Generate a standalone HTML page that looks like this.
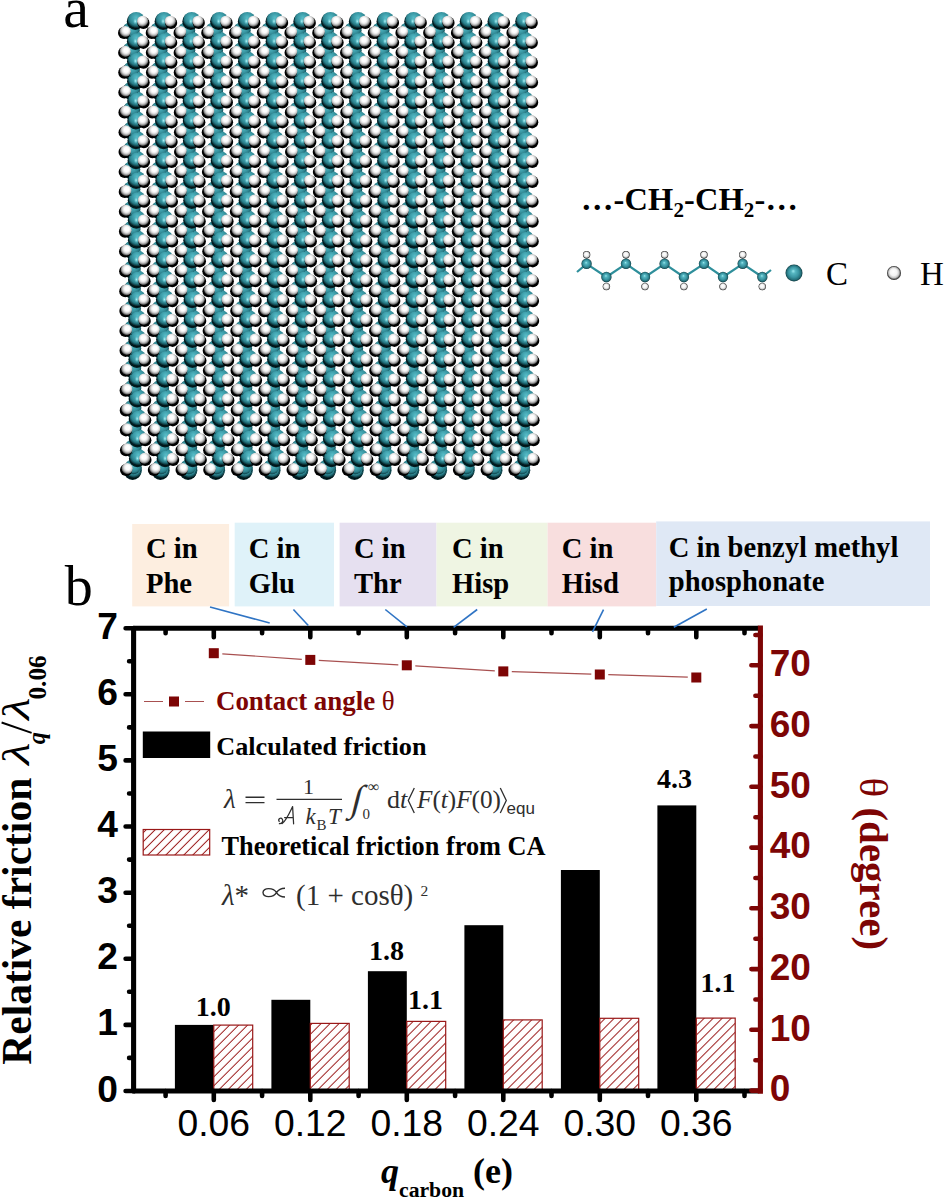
<!DOCTYPE html>
<html><head><meta charset="utf-8"><title>Figure</title>
<style>html,body{margin:0;padding:0;background:#fff;}body{width:946px;height:1200px;overflow:hidden;font-family:"Liberation Sans",sans-serif;}svg{display:block;}</style>
</head><body>
<svg width="946" height="1200" viewBox="0 0 946 1200">
<defs>
<radialGradient id="gC" gradientUnits="userSpaceOnUse" cx="0" cy="-2.5" r="11.0">
<stop offset="0" stop-color="#58bdc8"/>
<stop offset="0.28" stop-color="#44a6b2"/>
<stop offset="0.5" stop-color="#37939f"/>
<stop offset="0.66" stop-color="#2b7e89"/>
<stop offset="0.77" stop-color="#195a63"/>
<stop offset="0.86" stop-color="#0b363c"/>
<stop offset="0.94" stop-color="#021417"/>
<stop offset="1" stop-color="#000000"/>
</radialGradient>
<radialGradient id="gHL" cx="50%" cy="50%" r="50%">
<stop offset="0" stop-color="#b8f8fb" stop-opacity="0.95"/>
<stop offset="0.45" stop-color="#8fe3ea" stop-opacity="0.55"/>
<stop offset="1" stop-color="#58b9c4" stop-opacity="0"/>
</radialGradient>
<radialGradient id="gH" gradientUnits="userSpaceOnUse" cx="0.8" cy="-1.2" r="7.1">
<stop offset="0" stop-color="#ffffff"/>
<stop offset="0.3" stop-color="#fefefe"/>
<stop offset="0.5" stop-color="#e6e6e6"/>
<stop offset="0.66" stop-color="#bebebe"/>
<stop offset="0.8" stop-color="#868686"/>
<stop offset="0.92" stop-color="#3c3c3c"/>
<stop offset="1" stop-color="#0a0a0a"/>
</radialGradient>
<radialGradient id="gH2" gradientUnits="userSpaceOnUse" cx="-0.6" cy="-1.3" r="7.1">
<stop offset="0" stop-color="#ffffff"/>
<stop offset="0.3" stop-color="#fefefe"/>
<stop offset="0.5" stop-color="#e6e6e6"/>
<stop offset="0.66" stop-color="#bebebe"/>
<stop offset="0.8" stop-color="#868686"/>
<stop offset="0.92" stop-color="#3c3c3c"/>
<stop offset="1" stop-color="#0a0a0a"/>
</radialGradient>
<radialGradient id="gCs" cx="50%" cy="50%" r="50%" fx="45%" fy="38%">
<stop offset="0" stop-color="#9be9ef"/>
<stop offset="0.25" stop-color="#56b6c1"/>
<stop offset="0.6" stop-color="#3a96a3"/>
<stop offset="0.85" stop-color="#246f79"/>
<stop offset="1" stop-color="#0c353b"/>
</radialGradient>
<radialGradient id="gHs" cx="50%" cy="50%" r="50%" fx="45%" fy="38%">
<stop offset="0" stop-color="#ffffff"/>
<stop offset="0.5" stop-color="#f4f4f4"/>
<stop offset="0.75" stop-color="#c4c4c4"/>
<stop offset="0.9" stop-color="#585858"/>
<stop offset="1" stop-color="#161616"/>
</radialGradient>
<g id="c"><circle cx="-0.9" cy="1.3" r="8.5" fill="#041d21"/><circle r="8.4" fill="url(#gC)"/></g>
<g id="ccl"><circle r="6.9" fill="url(#gC)"/><ellipse cx="-1.4" cy="-3.0" rx="2.6" ry="3.2" fill="url(#gHL)"/></g>
<g id="ccr"><circle r="6.9" fill="url(#gC)"/><ellipse cx="-0.9" cy="1.0" rx="2.4" ry="3.4" fill="url(#gHL)"/></g>
<g id="hl"><circle cx="-1.0" cy="1.4" r="6.1" fill="#000"/><circle r="5.6" fill="url(#gH)"/></g>
<g id="hr"><circle cx="0.8" cy="1.6" r="6.1" fill="#000"/><circle r="5.6" fill="url(#gH2)"/></g>
<pattern id="hatch" width="6.36" height="6.36" patternUnits="userSpaceOnUse" patternTransform="rotate(-45)">
<line x1="0" y1="3.18" x2="6.36" y2="3.18" stroke="#991818" stroke-width="1"/>
</pattern>
</defs>

<filter id="bl" x="-5%" y="-5%" width="110%" height="110%"><feGaussianBlur stdDeviation="0.55"/></filter>
<g id="lattice" filter="url(#bl)">
<use href="#c" x="133.5" y="470.3"/><use href="#c" x="133.3" y="467.4"/><use href="#ccl" x="133.5" y="470.3"/><use href="#ccl" x="133.3" y="467.4"/><use href="#hl" x="127.1" y="468.6"/><use href="#c" x="133.2" y="447.6"/><use href="#c" x="138.3" y="457.4"/><use href="#ccl" x="133.2" y="447.6"/><use href="#ccr" x="138.3" y="457.4"/><use href="#hl" x="127.0" y="448.8"/><use href="#hr" x="144.6" y="458.4"/><use href="#c" x="133.1" y="427.7"/><use href="#c" x="138.2" y="437.6"/><use href="#ccl" x="133.1" y="427.7"/><use href="#ccr" x="138.2" y="437.6"/><use href="#hl" x="126.9" y="428.9"/><use href="#hr" x="144.5" y="438.6"/><use href="#c" x="133.0" y="407.8"/><use href="#c" x="138.1" y="417.7"/><use href="#ccl" x="133.0" y="407.8"/><use href="#ccr" x="138.1" y="417.7"/><use href="#hl" x="126.8" y="409.0"/><use href="#hr" x="144.4" y="418.7"/><use href="#c" x="132.9" y="388.0"/><use href="#c" x="138.0" y="397.8"/><use href="#ccl" x="132.9" y="388.0"/><use href="#ccr" x="138.0" y="397.8"/><use href="#hl" x="126.7" y="389.2"/><use href="#hr" x="144.3" y="398.8"/><use href="#c" x="132.8" y="368.1"/><use href="#c" x="137.9" y="378.0"/><use href="#ccl" x="132.8" y="368.1"/><use href="#ccr" x="137.9" y="378.0"/><use href="#hl" x="126.7" y="369.3"/><use href="#hr" x="144.2" y="379.0"/><use href="#c" x="132.8" y="348.2"/><use href="#c" x="137.8" y="358.1"/><use href="#ccl" x="132.8" y="348.2"/><use href="#ccr" x="137.8" y="358.1"/><use href="#hl" x="126.6" y="349.4"/><use href="#hr" x="144.1" y="359.1"/><use href="#c" x="132.7" y="328.4"/><use href="#c" x="137.7" y="338.2"/><use href="#ccl" x="132.7" y="328.4"/><use href="#ccr" x="137.7" y="338.2"/><use href="#hl" x="126.5" y="329.6"/><use href="#hr" x="144.0" y="339.2"/><use href="#c" x="132.6" y="308.5"/><use href="#c" x="137.6" y="318.4"/><use href="#ccl" x="132.6" y="308.5"/><use href="#ccr" x="137.6" y="318.4"/><use href="#hl" x="126.4" y="309.7"/><use href="#hr" x="143.9" y="319.4"/><use href="#c" x="132.5" y="288.6"/><use href="#c" x="137.5" y="298.5"/><use href="#ccl" x="132.5" y="288.6"/><use href="#ccr" x="137.5" y="298.5"/><use href="#hl" x="126.3" y="289.8"/><use href="#hr" x="143.8" y="299.5"/><use href="#c" x="132.4" y="268.7"/><use href="#c" x="137.4" y="278.6"/><use href="#ccl" x="132.4" y="268.7"/><use href="#ccr" x="137.4" y="278.6"/><use href="#hl" x="126.2" y="269.9"/><use href="#hr" x="143.7" y="279.6"/><use href="#c" x="132.3" y="248.9"/><use href="#c" x="137.3" y="258.7"/><use href="#ccl" x="132.3" y="248.9"/><use href="#ccr" x="137.3" y="258.7"/><use href="#hl" x="126.1" y="250.1"/><use href="#hr" x="143.6" y="259.7"/><use href="#c" x="132.2" y="229.0"/><use href="#c" x="137.3" y="238.9"/><use href="#ccl" x="132.2" y="229.0"/><use href="#ccr" x="137.3" y="238.9"/><use href="#hl" x="126.0" y="230.2"/><use href="#hr" x="143.6" y="239.9"/><use href="#c" x="132.1" y="209.1"/><use href="#c" x="137.2" y="219.0"/><use href="#ccl" x="132.1" y="209.1"/><use href="#ccr" x="137.2" y="219.0"/><use href="#hl" x="125.9" y="210.3"/><use href="#hr" x="143.5" y="220.0"/><use href="#c" x="132.0" y="189.3"/><use href="#c" x="137.1" y="199.1"/><use href="#ccl" x="132.0" y="189.3"/><use href="#ccr" x="137.1" y="199.1"/><use href="#hl" x="125.8" y="190.5"/><use href="#hr" x="143.4" y="200.1"/><use href="#c" x="131.9" y="169.4"/><use href="#c" x="137.0" y="179.3"/><use href="#ccl" x="131.9" y="169.4"/><use href="#ccr" x="137.0" y="179.3"/><use href="#hl" x="125.7" y="170.6"/><use href="#hr" x="143.3" y="180.3"/><use href="#c" x="131.8" y="149.5"/><use href="#c" x="136.9" y="159.4"/><use href="#ccl" x="131.8" y="149.5"/><use href="#ccr" x="136.9" y="159.4"/><use href="#hl" x="125.6" y="150.7"/><use href="#hr" x="143.2" y="160.4"/><use href="#c" x="131.8" y="129.7"/><use href="#c" x="136.8" y="139.5"/><use href="#ccl" x="131.8" y="129.7"/><use href="#ccr" x="136.8" y="139.5"/><use href="#hl" x="125.6" y="130.9"/><use href="#hr" x="143.1" y="140.5"/><use href="#c" x="131.7" y="109.8"/><use href="#c" x="136.7" y="119.7"/><use href="#ccl" x="131.7" y="109.8"/><use href="#ccr" x="136.7" y="119.7"/><use href="#hl" x="125.5" y="111.0"/><use href="#hr" x="143.0" y="120.7"/><use href="#c" x="131.6" y="89.9"/><use href="#c" x="136.6" y="99.8"/><use href="#ccl" x="131.6" y="89.9"/><use href="#ccr" x="136.6" y="99.8"/><use href="#hl" x="125.4" y="91.1"/><use href="#hr" x="142.9" y="100.8"/><use href="#c" x="131.5" y="70.0"/><use href="#c" x="136.5" y="79.9"/><use href="#ccl" x="131.5" y="70.0"/><use href="#ccr" x="136.5" y="79.9"/><use href="#hl" x="125.3" y="71.2"/><use href="#hr" x="142.8" y="80.9"/><use href="#c" x="131.4" y="50.2"/><use href="#c" x="136.4" y="60.0"/><use href="#ccl" x="131.4" y="50.2"/><use href="#ccr" x="136.4" y="60.0"/><use href="#hl" x="125.2" y="51.4"/><use href="#hr" x="142.7" y="61.0"/><use href="#c" x="131.3" y="30.3"/><use href="#c" x="136.3" y="40.2"/><use href="#ccl" x="131.3" y="30.3"/><use href="#ccr" x="136.3" y="40.2"/><use href="#hl" x="125.1" y="31.5"/><use href="#hr" x="142.6" y="41.2"/><use href="#c" x="136.2" y="20.3"/><use href="#ccr" x="136.2" y="20.3"/><use href="#hr" x="142.6" y="21.3"/>
<use href="#c" x="161.3" y="470.3"/><use href="#c" x="161.0" y="467.4"/><use href="#ccl" x="161.3" y="470.3"/><use href="#ccl" x="161.0" y="467.4"/><use href="#hl" x="154.9" y="468.6"/><use href="#c" x="161.0" y="447.6"/><use href="#c" x="166.0" y="457.4"/><use href="#ccl" x="161.0" y="447.6"/><use href="#ccr" x="166.0" y="457.4"/><use href="#hl" x="154.8" y="448.8"/><use href="#hr" x="172.3" y="458.4"/><use href="#c" x="160.9" y="427.7"/><use href="#c" x="165.9" y="437.6"/><use href="#ccl" x="160.9" y="427.7"/><use href="#ccr" x="165.9" y="437.6"/><use href="#hl" x="154.7" y="428.9"/><use href="#hr" x="172.2" y="438.6"/><use href="#c" x="160.8" y="407.8"/><use href="#c" x="165.8" y="417.7"/><use href="#ccl" x="160.8" y="407.8"/><use href="#ccr" x="165.8" y="417.7"/><use href="#hl" x="154.6" y="409.0"/><use href="#hr" x="172.1" y="418.7"/><use href="#c" x="160.7" y="388.0"/><use href="#c" x="165.7" y="397.8"/><use href="#ccl" x="160.7" y="388.0"/><use href="#ccr" x="165.7" y="397.8"/><use href="#hl" x="154.5" y="389.2"/><use href="#hr" x="172.0" y="398.8"/><use href="#c" x="160.6" y="368.1"/><use href="#c" x="165.6" y="378.0"/><use href="#ccl" x="160.6" y="368.1"/><use href="#ccr" x="165.6" y="378.0"/><use href="#hl" x="154.4" y="369.3"/><use href="#hr" x="171.9" y="379.0"/><use href="#c" x="160.5" y="348.2"/><use href="#c" x="165.5" y="358.1"/><use href="#ccl" x="160.5" y="348.2"/><use href="#ccr" x="165.5" y="358.1"/><use href="#hl" x="154.3" y="349.4"/><use href="#hr" x="171.8" y="359.1"/><use href="#c" x="160.4" y="328.4"/><use href="#c" x="165.5" y="338.2"/><use href="#ccl" x="160.4" y="328.4"/><use href="#ccr" x="165.5" y="338.2"/><use href="#hl" x="154.2" y="329.6"/><use href="#hr" x="171.8" y="339.2"/><use href="#c" x="160.3" y="308.5"/><use href="#c" x="165.4" y="318.4"/><use href="#ccl" x="160.3" y="308.5"/><use href="#ccr" x="165.4" y="318.4"/><use href="#hl" x="154.1" y="309.7"/><use href="#hr" x="171.7" y="319.4"/><use href="#c" x="160.2" y="288.6"/><use href="#c" x="165.3" y="298.5"/><use href="#ccl" x="160.2" y="288.6"/><use href="#ccr" x="165.3" y="298.5"/><use href="#hl" x="154.0" y="289.8"/><use href="#hr" x="171.6" y="299.5"/><use href="#c" x="160.1" y="268.7"/><use href="#c" x="165.2" y="278.6"/><use href="#ccl" x="160.1" y="268.7"/><use href="#ccr" x="165.2" y="278.6"/><use href="#hl" x="153.9" y="269.9"/><use href="#hr" x="171.5" y="279.6"/><use href="#c" x="160.0" y="248.9"/><use href="#c" x="165.1" y="258.7"/><use href="#ccl" x="160.0" y="248.9"/><use href="#ccr" x="165.1" y="258.7"/><use href="#hl" x="153.8" y="250.1"/><use href="#hr" x="171.4" y="259.7"/><use href="#c" x="159.9" y="229.0"/><use href="#c" x="165.0" y="238.9"/><use href="#ccl" x="159.9" y="229.0"/><use href="#ccr" x="165.0" y="238.9"/><use href="#hl" x="153.8" y="230.2"/><use href="#hr" x="171.3" y="239.9"/><use href="#c" x="159.9" y="209.1"/><use href="#c" x="164.9" y="219.0"/><use href="#ccl" x="159.9" y="209.1"/><use href="#ccr" x="164.9" y="219.0"/><use href="#hl" x="153.7" y="210.3"/><use href="#hr" x="171.2" y="220.0"/><use href="#c" x="159.8" y="189.3"/><use href="#c" x="164.8" y="199.1"/><use href="#ccl" x="159.8" y="189.3"/><use href="#ccr" x="164.8" y="199.1"/><use href="#hl" x="153.6" y="190.5"/><use href="#hr" x="171.1" y="200.1"/><use href="#c" x="159.7" y="169.4"/><use href="#c" x="164.7" y="179.3"/><use href="#ccl" x="159.7" y="169.4"/><use href="#ccr" x="164.7" y="179.3"/><use href="#hl" x="153.5" y="170.6"/><use href="#hr" x="171.0" y="180.3"/><use href="#c" x="159.6" y="149.5"/><use href="#c" x="164.6" y="159.4"/><use href="#ccl" x="159.6" y="149.5"/><use href="#ccr" x="164.6" y="159.4"/><use href="#hl" x="153.4" y="150.7"/><use href="#hr" x="170.9" y="160.4"/><use href="#c" x="159.5" y="129.7"/><use href="#c" x="164.5" y="139.5"/><use href="#ccl" x="159.5" y="129.7"/><use href="#ccr" x="164.5" y="139.5"/><use href="#hl" x="153.3" y="130.9"/><use href="#hr" x="170.8" y="140.5"/><use href="#c" x="159.4" y="109.8"/><use href="#c" x="164.4" y="119.7"/><use href="#ccl" x="159.4" y="109.8"/><use href="#ccr" x="164.4" y="119.7"/><use href="#hl" x="153.2" y="111.0"/><use href="#hr" x="170.8" y="120.7"/><use href="#c" x="159.3" y="89.9"/><use href="#c" x="164.4" y="99.8"/><use href="#ccl" x="159.3" y="89.9"/><use href="#ccr" x="164.4" y="99.8"/><use href="#hl" x="153.1" y="91.1"/><use href="#hr" x="170.7" y="100.8"/><use href="#c" x="159.2" y="70.0"/><use href="#c" x="164.3" y="79.9"/><use href="#ccl" x="159.2" y="70.0"/><use href="#ccr" x="164.3" y="79.9"/><use href="#hl" x="153.0" y="71.2"/><use href="#hr" x="170.6" y="80.9"/><use href="#c" x="159.1" y="50.2"/><use href="#c" x="164.2" y="60.0"/><use href="#ccl" x="159.1" y="50.2"/><use href="#ccr" x="164.2" y="60.0"/><use href="#hl" x="152.9" y="51.4"/><use href="#hr" x="170.5" y="61.0"/><use href="#c" x="159.0" y="30.3"/><use href="#c" x="164.1" y="40.2"/><use href="#ccl" x="159.0" y="30.3"/><use href="#ccr" x="164.1" y="40.2"/><use href="#hl" x="152.8" y="31.5"/><use href="#hr" x="170.4" y="41.2"/><use href="#c" x="164.0" y="20.3"/><use href="#ccr" x="164.0" y="20.3"/><use href="#hr" x="170.3" y="21.3"/>
<use href="#c" x="189.0" y="470.3"/><use href="#c" x="188.8" y="467.4"/><use href="#ccl" x="189.0" y="470.3"/><use href="#ccl" x="188.8" y="467.4"/><use href="#hl" x="182.6" y="468.6"/><use href="#c" x="188.7" y="447.6"/><use href="#c" x="193.7" y="457.4"/><use href="#ccl" x="188.7" y="447.6"/><use href="#ccr" x="193.7" y="457.4"/><use href="#hl" x="182.5" y="448.8"/><use href="#hr" x="200.0" y="458.4"/><use href="#c" x="188.6" y="427.7"/><use href="#c" x="193.6" y="437.6"/><use href="#ccl" x="188.6" y="427.7"/><use href="#ccr" x="193.6" y="437.6"/><use href="#hl" x="182.4" y="428.9"/><use href="#hr" x="200.0" y="438.6"/><use href="#c" x="188.5" y="407.8"/><use href="#c" x="193.6" y="417.7"/><use href="#ccl" x="188.5" y="407.8"/><use href="#ccr" x="193.6" y="417.7"/><use href="#hl" x="182.3" y="409.0"/><use href="#hr" x="199.9" y="418.7"/><use href="#c" x="188.4" y="388.0"/><use href="#c" x="193.5" y="397.8"/><use href="#ccl" x="188.4" y="388.0"/><use href="#ccr" x="193.5" y="397.8"/><use href="#hl" x="182.2" y="389.2"/><use href="#hr" x="199.8" y="398.8"/><use href="#c" x="188.3" y="368.1"/><use href="#c" x="193.4" y="378.0"/><use href="#ccl" x="188.3" y="368.1"/><use href="#ccr" x="193.4" y="378.0"/><use href="#hl" x="182.1" y="369.3"/><use href="#hr" x="199.7" y="379.0"/><use href="#c" x="188.2" y="348.2"/><use href="#c" x="193.3" y="358.1"/><use href="#ccl" x="188.2" y="348.2"/><use href="#ccr" x="193.3" y="358.1"/><use href="#hl" x="182.0" y="349.4"/><use href="#hr" x="199.6" y="359.1"/><use href="#c" x="188.1" y="328.4"/><use href="#c" x="193.2" y="338.2"/><use href="#ccl" x="188.1" y="328.4"/><use href="#ccr" x="193.2" y="338.2"/><use href="#hl" x="182.0" y="329.6"/><use href="#hr" x="199.5" y="339.2"/><use href="#c" x="188.1" y="308.5"/><use href="#c" x="193.1" y="318.4"/><use href="#ccl" x="188.1" y="308.5"/><use href="#ccr" x="193.1" y="318.4"/><use href="#hl" x="181.9" y="309.7"/><use href="#hr" x="199.4" y="319.4"/><use href="#c" x="188.0" y="288.6"/><use href="#c" x="193.0" y="298.5"/><use href="#ccl" x="188.0" y="288.6"/><use href="#ccr" x="193.0" y="298.5"/><use href="#hl" x="181.8" y="289.8"/><use href="#hr" x="199.3" y="299.5"/><use href="#c" x="187.9" y="268.7"/><use href="#c" x="192.9" y="278.6"/><use href="#ccl" x="187.9" y="268.7"/><use href="#ccr" x="192.9" y="278.6"/><use href="#hl" x="181.7" y="269.9"/><use href="#hr" x="199.2" y="279.6"/><use href="#c" x="187.8" y="248.9"/><use href="#c" x="192.8" y="258.7"/><use href="#ccl" x="187.8" y="248.9"/><use href="#ccr" x="192.8" y="258.7"/><use href="#hl" x="181.6" y="250.1"/><use href="#hr" x="199.1" y="259.7"/><use href="#c" x="187.7" y="229.0"/><use href="#c" x="192.7" y="238.9"/><use href="#ccl" x="187.7" y="229.0"/><use href="#ccr" x="192.7" y="238.9"/><use href="#hl" x="181.5" y="230.2"/><use href="#hr" x="199.0" y="239.9"/><use href="#c" x="187.6" y="209.1"/><use href="#c" x="192.6" y="219.0"/><use href="#ccl" x="187.6" y="209.1"/><use href="#ccr" x="192.6" y="219.0"/><use href="#hl" x="181.4" y="210.3"/><use href="#hr" x="198.9" y="220.0"/><use href="#c" x="187.5" y="189.3"/><use href="#c" x="192.6" y="199.1"/><use href="#ccl" x="187.5" y="189.3"/><use href="#ccr" x="192.6" y="199.1"/><use href="#hl" x="181.3" y="190.5"/><use href="#hr" x="198.9" y="200.1"/><use href="#c" x="187.4" y="169.4"/><use href="#c" x="192.5" y="179.3"/><use href="#ccl" x="187.4" y="169.4"/><use href="#ccr" x="192.5" y="179.3"/><use href="#hl" x="181.2" y="170.6"/><use href="#hr" x="198.8" y="180.3"/><use href="#c" x="187.3" y="149.5"/><use href="#c" x="192.4" y="159.4"/><use href="#ccl" x="187.3" y="149.5"/><use href="#ccr" x="192.4" y="159.4"/><use href="#hl" x="181.1" y="150.7"/><use href="#hr" x="198.7" y="160.4"/><use href="#c" x="187.2" y="129.7"/><use href="#c" x="192.3" y="139.5"/><use href="#ccl" x="187.2" y="129.7"/><use href="#ccr" x="192.3" y="139.5"/><use href="#hl" x="181.0" y="130.9"/><use href="#hr" x="198.6" y="140.5"/><use href="#c" x="187.1" y="109.8"/><use href="#c" x="192.2" y="119.7"/><use href="#ccl" x="187.1" y="109.8"/><use href="#ccr" x="192.2" y="119.7"/><use href="#hl" x="180.9" y="111.0"/><use href="#hr" x="198.5" y="120.7"/><use href="#c" x="187.0" y="89.9"/><use href="#c" x="192.1" y="99.8"/><use href="#ccl" x="187.0" y="89.9"/><use href="#ccr" x="192.1" y="99.8"/><use href="#hl" x="180.9" y="91.1"/><use href="#hr" x="198.4" y="100.8"/><use href="#c" x="187.0" y="70.0"/><use href="#c" x="192.0" y="79.9"/><use href="#ccl" x="187.0" y="70.0"/><use href="#ccr" x="192.0" y="79.9"/><use href="#hl" x="180.8" y="71.2"/><use href="#hr" x="198.3" y="80.9"/><use href="#c" x="186.9" y="50.2"/><use href="#c" x="191.9" y="60.0"/><use href="#ccl" x="186.9" y="50.2"/><use href="#ccr" x="191.9" y="60.0"/><use href="#hl" x="180.7" y="51.4"/><use href="#hr" x="198.2" y="61.0"/><use href="#c" x="186.8" y="30.3"/><use href="#c" x="191.8" y="40.2"/><use href="#ccl" x="186.8" y="30.3"/><use href="#ccr" x="191.8" y="40.2"/><use href="#hl" x="180.6" y="31.5"/><use href="#hr" x="198.1" y="41.2"/><use href="#c" x="191.7" y="20.3"/><use href="#ccr" x="191.7" y="20.3"/><use href="#hr" x="198.0" y="21.3"/>
<use href="#c" x="216.7" y="470.3"/><use href="#c" x="216.5" y="467.4"/><use href="#ccl" x="216.7" y="470.3"/><use href="#ccl" x="216.5" y="467.4"/><use href="#hl" x="210.3" y="468.6"/><use href="#c" x="216.4" y="447.6"/><use href="#c" x="221.5" y="457.4"/><use href="#ccl" x="216.4" y="447.6"/><use href="#ccr" x="221.5" y="457.4"/><use href="#hl" x="210.2" y="448.8"/><use href="#hr" x="227.8" y="458.4"/><use href="#c" x="216.3" y="427.7"/><use href="#c" x="221.4" y="437.6"/><use href="#ccl" x="216.3" y="427.7"/><use href="#ccr" x="221.4" y="437.6"/><use href="#hl" x="210.1" y="428.9"/><use href="#hr" x="227.7" y="438.6"/><use href="#c" x="216.3" y="407.8"/><use href="#c" x="221.3" y="417.7"/><use href="#ccl" x="216.3" y="407.8"/><use href="#ccr" x="221.3" y="417.7"/><use href="#hl" x="210.1" y="409.0"/><use href="#hr" x="227.6" y="418.7"/><use href="#c" x="216.2" y="388.0"/><use href="#c" x="221.2" y="397.8"/><use href="#ccl" x="216.2" y="388.0"/><use href="#ccr" x="221.2" y="397.8"/><use href="#hl" x="210.0" y="389.2"/><use href="#hr" x="227.5" y="398.8"/><use href="#c" x="216.1" y="368.1"/><use href="#c" x="221.1" y="378.0"/><use href="#ccl" x="216.1" y="368.1"/><use href="#ccr" x="221.1" y="378.0"/><use href="#hl" x="209.9" y="369.3"/><use href="#hr" x="227.4" y="379.0"/><use href="#c" x="216.0" y="348.2"/><use href="#c" x="221.0" y="358.1"/><use href="#ccl" x="216.0" y="348.2"/><use href="#ccr" x="221.0" y="358.1"/><use href="#hl" x="209.8" y="349.4"/><use href="#hr" x="227.3" y="359.1"/><use href="#c" x="215.9" y="328.4"/><use href="#c" x="220.9" y="338.2"/><use href="#ccl" x="215.9" y="328.4"/><use href="#ccr" x="220.9" y="338.2"/><use href="#hl" x="209.7" y="329.6"/><use href="#hr" x="227.2" y="339.2"/><use href="#c" x="215.8" y="308.5"/><use href="#c" x="220.8" y="318.4"/><use href="#ccl" x="215.8" y="308.5"/><use href="#ccr" x="220.8" y="318.4"/><use href="#hl" x="209.6" y="309.7"/><use href="#hr" x="227.1" y="319.4"/><use href="#c" x="215.7" y="288.6"/><use href="#c" x="220.7" y="298.5"/><use href="#ccl" x="215.7" y="288.6"/><use href="#ccr" x="220.7" y="298.5"/><use href="#hl" x="209.5" y="289.8"/><use href="#hr" x="227.1" y="299.5"/><use href="#c" x="215.6" y="268.7"/><use href="#c" x="220.7" y="278.6"/><use href="#ccl" x="215.6" y="268.7"/><use href="#ccr" x="220.7" y="278.6"/><use href="#hl" x="209.4" y="269.9"/><use href="#hr" x="227.0" y="279.6"/><use href="#c" x="215.5" y="248.9"/><use href="#c" x="220.6" y="258.7"/><use href="#ccl" x="215.5" y="248.9"/><use href="#ccr" x="220.6" y="258.7"/><use href="#hl" x="209.3" y="250.1"/><use href="#hr" x="226.9" y="259.7"/><use href="#c" x="215.4" y="229.0"/><use href="#c" x="220.5" y="238.9"/><use href="#ccl" x="215.4" y="229.0"/><use href="#ccr" x="220.5" y="238.9"/><use href="#hl" x="209.2" y="230.2"/><use href="#hr" x="226.8" y="239.9"/><use href="#c" x="215.3" y="209.1"/><use href="#c" x="220.4" y="219.0"/><use href="#ccl" x="215.3" y="209.1"/><use href="#ccr" x="220.4" y="219.0"/><use href="#hl" x="209.1" y="210.3"/><use href="#hr" x="226.7" y="220.0"/><use href="#c" x="215.2" y="189.3"/><use href="#c" x="220.3" y="199.1"/><use href="#ccl" x="215.2" y="189.3"/><use href="#ccr" x="220.3" y="199.1"/><use href="#hl" x="209.1" y="190.5"/><use href="#hr" x="226.6" y="200.1"/><use href="#c" x="215.2" y="169.4"/><use href="#c" x="220.2" y="179.3"/><use href="#ccl" x="215.2" y="169.4"/><use href="#ccr" x="220.2" y="179.3"/><use href="#hl" x="209.0" y="170.6"/><use href="#hr" x="226.5" y="180.3"/><use href="#c" x="215.1" y="149.5"/><use href="#c" x="220.1" y="159.4"/><use href="#ccl" x="215.1" y="149.5"/><use href="#ccr" x="220.1" y="159.4"/><use href="#hl" x="208.9" y="150.7"/><use href="#hr" x="226.4" y="160.4"/><use href="#c" x="215.0" y="129.7"/><use href="#c" x="220.0" y="139.5"/><use href="#ccl" x="215.0" y="129.7"/><use href="#ccr" x="220.0" y="139.5"/><use href="#hl" x="208.8" y="130.9"/><use href="#hr" x="226.3" y="140.5"/><use href="#c" x="214.9" y="109.8"/><use href="#c" x="219.9" y="119.7"/><use href="#ccl" x="214.9" y="109.8"/><use href="#ccr" x="219.9" y="119.7"/><use href="#hl" x="208.7" y="111.0"/><use href="#hr" x="226.2" y="120.7"/><use href="#c" x="214.8" y="89.9"/><use href="#c" x="219.8" y="99.8"/><use href="#ccl" x="214.8" y="89.9"/><use href="#ccr" x="219.8" y="99.8"/><use href="#hl" x="208.6" y="91.1"/><use href="#hr" x="226.1" y="100.8"/><use href="#c" x="214.7" y="70.0"/><use href="#c" x="219.7" y="79.9"/><use href="#ccl" x="214.7" y="70.0"/><use href="#ccr" x="219.7" y="79.9"/><use href="#hl" x="208.5" y="71.2"/><use href="#hr" x="226.0" y="80.9"/><use href="#c" x="214.6" y="50.2"/><use href="#c" x="219.7" y="60.0"/><use href="#ccl" x="214.6" y="50.2"/><use href="#ccr" x="219.7" y="60.0"/><use href="#hl" x="208.4" y="51.4"/><use href="#hr" x="226.0" y="61.0"/><use href="#c" x="214.5" y="30.3"/><use href="#c" x="219.6" y="40.2"/><use href="#ccl" x="214.5" y="30.3"/><use href="#ccr" x="219.6" y="40.2"/><use href="#hl" x="208.3" y="31.5"/><use href="#hr" x="225.9" y="41.2"/><use href="#c" x="219.5" y="20.3"/><use href="#ccr" x="219.5" y="20.3"/><use href="#hr" x="225.8" y="21.3"/>
<use href="#c" x="244.5" y="470.3"/><use href="#c" x="244.3" y="467.4"/><use href="#ccl" x="244.5" y="470.3"/><use href="#ccl" x="244.3" y="467.4"/><use href="#hl" x="238.1" y="468.6"/><use href="#c" x="244.2" y="447.6"/><use href="#c" x="249.2" y="457.4"/><use href="#ccl" x="244.2" y="447.6"/><use href="#ccr" x="249.2" y="457.4"/><use href="#hl" x="238.0" y="448.8"/><use href="#hr" x="255.5" y="458.4"/><use href="#c" x="244.1" y="427.7"/><use href="#c" x="249.1" y="437.6"/><use href="#ccl" x="244.1" y="427.7"/><use href="#ccr" x="249.1" y="437.6"/><use href="#hl" x="237.9" y="428.9"/><use href="#hr" x="255.4" y="438.6"/><use href="#c" x="244.0" y="407.8"/><use href="#c" x="249.0" y="417.7"/><use href="#ccl" x="244.0" y="407.8"/><use href="#ccr" x="249.0" y="417.7"/><use href="#hl" x="237.8" y="409.0"/><use href="#hr" x="255.3" y="418.7"/><use href="#c" x="243.9" y="388.0"/><use href="#c" x="248.9" y="397.8"/><use href="#ccl" x="243.9" y="388.0"/><use href="#ccr" x="248.9" y="397.8"/><use href="#hl" x="237.7" y="389.2"/><use href="#hr" x="255.2" y="398.8"/><use href="#c" x="243.8" y="368.1"/><use href="#c" x="248.9" y="378.0"/><use href="#ccl" x="243.8" y="368.1"/><use href="#ccr" x="248.9" y="378.0"/><use href="#hl" x="237.6" y="369.3"/><use href="#hr" x="255.2" y="379.0"/><use href="#c" x="243.7" y="348.2"/><use href="#c" x="248.8" y="358.1"/><use href="#ccl" x="243.7" y="348.2"/><use href="#ccr" x="248.8" y="358.1"/><use href="#hl" x="237.5" y="349.4"/><use href="#hr" x="255.1" y="359.1"/><use href="#c" x="243.6" y="328.4"/><use href="#c" x="248.7" y="338.2"/><use href="#ccl" x="243.6" y="328.4"/><use href="#ccr" x="248.7" y="338.2"/><use href="#hl" x="237.4" y="329.6"/><use href="#hr" x="255.0" y="339.2"/><use href="#c" x="243.5" y="308.5"/><use href="#c" x="248.6" y="318.4"/><use href="#ccl" x="243.5" y="308.5"/><use href="#ccr" x="248.6" y="318.4"/><use href="#hl" x="237.3" y="309.7"/><use href="#hr" x="254.9" y="319.4"/><use href="#c" x="243.4" y="288.6"/><use href="#c" x="248.5" y="298.5"/><use href="#ccl" x="243.4" y="288.6"/><use href="#ccr" x="248.5" y="298.5"/><use href="#hl" x="237.2" y="289.8"/><use href="#hr" x="254.8" y="299.5"/><use href="#c" x="243.4" y="268.7"/><use href="#c" x="248.4" y="278.6"/><use href="#ccl" x="243.4" y="268.7"/><use href="#ccr" x="248.4" y="278.6"/><use href="#hl" x="237.2" y="269.9"/><use href="#hr" x="254.7" y="279.6"/><use href="#c" x="243.3" y="248.9"/><use href="#c" x="248.3" y="258.7"/><use href="#ccl" x="243.3" y="248.9"/><use href="#ccr" x="248.3" y="258.7"/><use href="#hl" x="237.1" y="250.1"/><use href="#hr" x="254.6" y="259.7"/><use href="#c" x="243.2" y="229.0"/><use href="#c" x="248.2" y="238.9"/><use href="#ccl" x="243.2" y="229.0"/><use href="#ccr" x="248.2" y="238.9"/><use href="#hl" x="237.0" y="230.2"/><use href="#hr" x="254.5" y="239.9"/><use href="#c" x="243.1" y="209.1"/><use href="#c" x="248.1" y="219.0"/><use href="#ccl" x="243.1" y="209.1"/><use href="#ccr" x="248.1" y="219.0"/><use href="#hl" x="236.9" y="210.3"/><use href="#hr" x="254.4" y="220.0"/><use href="#c" x="243.0" y="189.3"/><use href="#c" x="248.0" y="199.1"/><use href="#ccl" x="243.0" y="189.3"/><use href="#ccr" x="248.0" y="199.1"/><use href="#hl" x="236.8" y="190.5"/><use href="#hr" x="254.3" y="200.1"/><use href="#c" x="242.9" y="169.4"/><use href="#c" x="247.9" y="179.3"/><use href="#ccl" x="242.9" y="169.4"/><use href="#ccr" x="247.9" y="179.3"/><use href="#hl" x="236.7" y="170.6"/><use href="#hr" x="254.2" y="180.3"/><use href="#c" x="242.8" y="149.5"/><use href="#c" x="247.8" y="159.4"/><use href="#ccl" x="242.8" y="149.5"/><use href="#ccr" x="247.8" y="159.4"/><use href="#hl" x="236.6" y="150.7"/><use href="#hr" x="254.2" y="160.4"/><use href="#c" x="242.7" y="129.7"/><use href="#c" x="247.8" y="139.5"/><use href="#ccl" x="242.7" y="129.7"/><use href="#ccr" x="247.8" y="139.5"/><use href="#hl" x="236.5" y="130.9"/><use href="#hr" x="254.1" y="140.5"/><use href="#c" x="242.6" y="109.8"/><use href="#c" x="247.7" y="119.7"/><use href="#ccl" x="242.6" y="109.8"/><use href="#ccr" x="247.7" y="119.7"/><use href="#hl" x="236.4" y="111.0"/><use href="#hr" x="254.0" y="120.7"/><use href="#c" x="242.5" y="89.9"/><use href="#c" x="247.6" y="99.8"/><use href="#ccl" x="242.5" y="89.9"/><use href="#ccr" x="247.6" y="99.8"/><use href="#hl" x="236.3" y="91.1"/><use href="#hr" x="253.9" y="100.8"/><use href="#c" x="242.4" y="70.0"/><use href="#c" x="247.5" y="79.9"/><use href="#ccl" x="242.4" y="70.0"/><use href="#ccr" x="247.5" y="79.9"/><use href="#hl" x="236.2" y="71.2"/><use href="#hr" x="253.8" y="80.9"/><use href="#c" x="242.3" y="50.2"/><use href="#c" x="247.4" y="60.0"/><use href="#ccl" x="242.3" y="50.2"/><use href="#ccr" x="247.4" y="60.0"/><use href="#hl" x="236.2" y="51.4"/><use href="#hr" x="253.7" y="61.0"/><use href="#c" x="242.3" y="30.3"/><use href="#c" x="247.3" y="40.2"/><use href="#ccl" x="242.3" y="30.3"/><use href="#ccr" x="247.3" y="40.2"/><use href="#hl" x="236.1" y="31.5"/><use href="#hr" x="253.6" y="41.2"/><use href="#c" x="247.2" y="20.3"/><use href="#ccr" x="247.2" y="20.3"/><use href="#hr" x="253.5" y="21.3"/>
<use href="#c" x="272.2" y="470.3"/><use href="#c" x="272.0" y="467.4"/><use href="#ccl" x="272.2" y="470.3"/><use href="#ccl" x="272.0" y="467.4"/><use href="#hl" x="265.8" y="468.6"/><use href="#c" x="271.9" y="447.6"/><use href="#c" x="277.0" y="457.4"/><use href="#ccl" x="271.9" y="447.6"/><use href="#ccr" x="277.0" y="457.4"/><use href="#hl" x="265.7" y="448.8"/><use href="#hr" x="283.3" y="458.4"/><use href="#c" x="271.8" y="427.7"/><use href="#c" x="276.9" y="437.6"/><use href="#ccl" x="271.8" y="427.7"/><use href="#ccr" x="276.9" y="437.6"/><use href="#hl" x="265.6" y="428.9"/><use href="#hr" x="283.2" y="438.6"/><use href="#c" x="271.7" y="407.8"/><use href="#c" x="276.8" y="417.7"/><use href="#ccl" x="271.7" y="407.8"/><use href="#ccr" x="276.8" y="417.7"/><use href="#hl" x="265.5" y="409.0"/><use href="#hr" x="283.1" y="418.7"/><use href="#c" x="271.6" y="388.0"/><use href="#c" x="276.7" y="397.8"/><use href="#ccl" x="271.6" y="388.0"/><use href="#ccr" x="276.7" y="397.8"/><use href="#hl" x="265.4" y="389.2"/><use href="#hr" x="283.0" y="398.8"/><use href="#c" x="271.5" y="368.1"/><use href="#c" x="276.6" y="378.0"/><use href="#ccl" x="271.5" y="368.1"/><use href="#ccr" x="276.6" y="378.0"/><use href="#hl" x="265.4" y="369.3"/><use href="#hr" x="282.9" y="379.0"/><use href="#c" x="271.5" y="348.2"/><use href="#c" x="276.5" y="358.1"/><use href="#ccl" x="271.5" y="348.2"/><use href="#ccr" x="276.5" y="358.1"/><use href="#hl" x="265.3" y="349.4"/><use href="#hr" x="282.8" y="359.1"/><use href="#c" x="271.4" y="328.4"/><use href="#c" x="276.4" y="338.2"/><use href="#ccl" x="271.4" y="328.4"/><use href="#ccr" x="276.4" y="338.2"/><use href="#hl" x="265.2" y="329.6"/><use href="#hr" x="282.7" y="339.2"/><use href="#c" x="271.3" y="308.5"/><use href="#c" x="276.3" y="318.4"/><use href="#ccl" x="271.3" y="308.5"/><use href="#ccr" x="276.3" y="318.4"/><use href="#hl" x="265.1" y="309.7"/><use href="#hr" x="282.6" y="319.4"/><use href="#c" x="271.2" y="288.6"/><use href="#c" x="276.2" y="298.5"/><use href="#ccl" x="271.2" y="288.6"/><use href="#ccr" x="276.2" y="298.5"/><use href="#hl" x="265.0" y="289.8"/><use href="#hr" x="282.5" y="299.5"/><use href="#c" x="271.1" y="268.7"/><use href="#c" x="276.1" y="278.6"/><use href="#ccl" x="271.1" y="268.7"/><use href="#ccr" x="276.1" y="278.6"/><use href="#hl" x="264.9" y="269.9"/><use href="#hr" x="282.4" y="279.6"/><use href="#c" x="271.0" y="248.9"/><use href="#c" x="276.0" y="258.7"/><use href="#ccl" x="271.0" y="248.9"/><use href="#ccr" x="276.0" y="258.7"/><use href="#hl" x="264.8" y="250.1"/><use href="#hr" x="282.3" y="259.7"/><use href="#c" x="270.9" y="229.0"/><use href="#c" x="276.0" y="238.9"/><use href="#ccl" x="270.9" y="229.0"/><use href="#ccr" x="276.0" y="238.9"/><use href="#hl" x="264.7" y="230.2"/><use href="#hr" x="282.3" y="239.9"/><use href="#c" x="270.8" y="209.1"/><use href="#c" x="275.9" y="219.0"/><use href="#ccl" x="270.8" y="209.1"/><use href="#ccr" x="275.9" y="219.0"/><use href="#hl" x="264.6" y="210.3"/><use href="#hr" x="282.2" y="220.0"/><use href="#c" x="270.7" y="189.3"/><use href="#c" x="275.8" y="199.1"/><use href="#ccl" x="270.7" y="189.3"/><use href="#ccr" x="275.8" y="199.1"/><use href="#hl" x="264.5" y="190.5"/><use href="#hr" x="282.1" y="200.1"/><use href="#c" x="270.6" y="169.4"/><use href="#c" x="275.7" y="179.3"/><use href="#ccl" x="270.6" y="169.4"/><use href="#ccr" x="275.7" y="179.3"/><use href="#hl" x="264.4" y="170.6"/><use href="#hr" x="282.0" y="180.3"/><use href="#c" x="270.5" y="149.5"/><use href="#c" x="275.6" y="159.4"/><use href="#ccl" x="270.5" y="149.5"/><use href="#ccr" x="275.6" y="159.4"/><use href="#hl" x="264.3" y="150.7"/><use href="#hr" x="281.9" y="160.4"/><use href="#c" x="270.5" y="129.7"/><use href="#c" x="275.5" y="139.5"/><use href="#ccl" x="270.5" y="129.7"/><use href="#ccr" x="275.5" y="139.5"/><use href="#hl" x="264.3" y="130.9"/><use href="#hr" x="281.8" y="140.5"/><use href="#c" x="270.4" y="109.8"/><use href="#c" x="275.4" y="119.7"/><use href="#ccl" x="270.4" y="109.8"/><use href="#ccr" x="275.4" y="119.7"/><use href="#hl" x="264.2" y="111.0"/><use href="#hr" x="281.7" y="120.7"/><use href="#c" x="270.3" y="89.9"/><use href="#c" x="275.3" y="99.8"/><use href="#ccl" x="270.3" y="89.9"/><use href="#ccr" x="275.3" y="99.8"/><use href="#hl" x="264.1" y="91.1"/><use href="#hr" x="281.6" y="100.8"/><use href="#c" x="270.2" y="70.0"/><use href="#c" x="275.2" y="79.9"/><use href="#ccl" x="270.2" y="70.0"/><use href="#ccr" x="275.2" y="79.9"/><use href="#hl" x="264.0" y="71.2"/><use href="#hr" x="281.5" y="80.9"/><use href="#c" x="270.1" y="50.2"/><use href="#c" x="275.1" y="60.0"/><use href="#ccl" x="270.1" y="50.2"/><use href="#ccr" x="275.1" y="60.0"/><use href="#hl" x="263.9" y="51.4"/><use href="#hr" x="281.4" y="61.0"/><use href="#c" x="270.0" y="30.3"/><use href="#c" x="275.0" y="40.2"/><use href="#ccl" x="270.0" y="30.3"/><use href="#ccr" x="275.0" y="40.2"/><use href="#hl" x="263.8" y="31.5"/><use href="#hr" x="281.3" y="41.2"/><use href="#c" x="274.9" y="20.3"/><use href="#ccr" x="274.9" y="20.3"/><use href="#hr" x="281.3" y="21.3"/>
<use href="#c" x="300.0" y="470.3"/><use href="#c" x="299.7" y="467.4"/><use href="#ccl" x="300.0" y="470.3"/><use href="#ccl" x="299.7" y="467.4"/><use href="#hl" x="293.6" y="468.6"/><use href="#c" x="299.7" y="447.6"/><use href="#c" x="304.7" y="457.4"/><use href="#ccl" x="299.7" y="447.6"/><use href="#ccr" x="304.7" y="457.4"/><use href="#hl" x="293.5" y="448.8"/><use href="#hr" x="311.0" y="458.4"/><use href="#c" x="299.6" y="427.7"/><use href="#c" x="304.6" y="437.6"/><use href="#ccl" x="299.6" y="427.7"/><use href="#ccr" x="304.6" y="437.6"/><use href="#hl" x="293.4" y="428.9"/><use href="#hr" x="310.9" y="438.6"/><use href="#c" x="299.5" y="407.8"/><use href="#c" x="304.5" y="417.7"/><use href="#ccl" x="299.5" y="407.8"/><use href="#ccr" x="304.5" y="417.7"/><use href="#hl" x="293.3" y="409.0"/><use href="#hr" x="310.8" y="418.7"/><use href="#c" x="299.4" y="388.0"/><use href="#c" x="304.4" y="397.8"/><use href="#ccl" x="299.4" y="388.0"/><use href="#ccr" x="304.4" y="397.8"/><use href="#hl" x="293.2" y="389.2"/><use href="#hr" x="310.7" y="398.8"/><use href="#c" x="299.3" y="368.1"/><use href="#c" x="304.3" y="378.0"/><use href="#ccl" x="299.3" y="368.1"/><use href="#ccr" x="304.3" y="378.0"/><use href="#hl" x="293.1" y="369.3"/><use href="#hr" x="310.6" y="379.0"/><use href="#c" x="299.2" y="348.2"/><use href="#c" x="304.2" y="358.1"/><use href="#ccl" x="299.2" y="348.2"/><use href="#ccr" x="304.2" y="358.1"/><use href="#hl" x="293.0" y="349.4"/><use href="#hr" x="310.5" y="359.1"/><use href="#c" x="299.1" y="328.4"/><use href="#c" x="304.2" y="338.2"/><use href="#ccl" x="299.1" y="328.4"/><use href="#ccr" x="304.2" y="338.2"/><use href="#hl" x="292.9" y="329.6"/><use href="#hr" x="310.5" y="339.2"/><use href="#c" x="299.0" y="308.5"/><use href="#c" x="304.1" y="318.4"/><use href="#ccl" x="299.0" y="308.5"/><use href="#ccr" x="304.1" y="318.4"/><use href="#hl" x="292.8" y="309.7"/><use href="#hr" x="310.4" y="319.4"/><use href="#c" x="298.9" y="288.6"/><use href="#c" x="304.0" y="298.5"/><use href="#ccl" x="298.9" y="288.6"/><use href="#ccr" x="304.0" y="298.5"/><use href="#hl" x="292.7" y="289.8"/><use href="#hr" x="310.3" y="299.5"/><use href="#c" x="298.8" y="268.7"/><use href="#c" x="303.9" y="278.6"/><use href="#ccl" x="298.8" y="268.7"/><use href="#ccr" x="303.9" y="278.6"/><use href="#hl" x="292.6" y="269.9"/><use href="#hr" x="310.2" y="279.6"/><use href="#c" x="298.7" y="248.9"/><use href="#c" x="303.8" y="258.7"/><use href="#ccl" x="298.7" y="248.9"/><use href="#ccr" x="303.8" y="258.7"/><use href="#hl" x="292.5" y="250.1"/><use href="#hr" x="310.1" y="259.7"/><use href="#c" x="298.6" y="229.0"/><use href="#c" x="303.7" y="238.9"/><use href="#ccl" x="298.6" y="229.0"/><use href="#ccr" x="303.7" y="238.9"/><use href="#hl" x="292.5" y="230.2"/><use href="#hr" x="310.0" y="239.9"/><use href="#c" x="298.6" y="209.1"/><use href="#c" x="303.6" y="219.0"/><use href="#ccl" x="298.6" y="209.1"/><use href="#ccr" x="303.6" y="219.0"/><use href="#hl" x="292.4" y="210.3"/><use href="#hr" x="309.9" y="220.0"/><use href="#c" x="298.5" y="189.3"/><use href="#c" x="303.5" y="199.1"/><use href="#ccl" x="298.5" y="189.3"/><use href="#ccr" x="303.5" y="199.1"/><use href="#hl" x="292.3" y="190.5"/><use href="#hr" x="309.8" y="200.1"/><use href="#c" x="298.4" y="169.4"/><use href="#c" x="303.4" y="179.3"/><use href="#ccl" x="298.4" y="169.4"/><use href="#ccr" x="303.4" y="179.3"/><use href="#hl" x="292.2" y="170.6"/><use href="#hr" x="309.7" y="180.3"/><use href="#c" x="298.3" y="149.5"/><use href="#c" x="303.3" y="159.4"/><use href="#ccl" x="298.3" y="149.5"/><use href="#ccr" x="303.3" y="159.4"/><use href="#hl" x="292.1" y="150.7"/><use href="#hr" x="309.6" y="160.4"/><use href="#c" x="298.2" y="129.7"/><use href="#c" x="303.2" y="139.5"/><use href="#ccl" x="298.2" y="129.7"/><use href="#ccr" x="303.2" y="139.5"/><use href="#hl" x="292.0" y="130.9"/><use href="#hr" x="309.5" y="140.5"/><use href="#c" x="298.1" y="109.8"/><use href="#c" x="303.1" y="119.7"/><use href="#ccl" x="298.1" y="109.8"/><use href="#ccr" x="303.1" y="119.7"/><use href="#hl" x="291.9" y="111.0"/><use href="#hr" x="309.5" y="120.7"/><use href="#c" x="298.0" y="89.9"/><use href="#c" x="303.1" y="99.8"/><use href="#ccl" x="298.0" y="89.9"/><use href="#ccr" x="303.1" y="99.8"/><use href="#hl" x="291.8" y="91.1"/><use href="#hr" x="309.4" y="100.8"/><use href="#c" x="297.9" y="70.0"/><use href="#c" x="303.0" y="79.9"/><use href="#ccl" x="297.9" y="70.0"/><use href="#ccr" x="303.0" y="79.9"/><use href="#hl" x="291.7" y="71.2"/><use href="#hr" x="309.3" y="80.9"/><use href="#c" x="297.8" y="50.2"/><use href="#c" x="302.9" y="60.0"/><use href="#ccl" x="297.8" y="50.2"/><use href="#ccr" x="302.9" y="60.0"/><use href="#hl" x="291.6" y="51.4"/><use href="#hr" x="309.2" y="61.0"/><use href="#c" x="297.7" y="30.3"/><use href="#c" x="302.8" y="40.2"/><use href="#ccl" x="297.7" y="30.3"/><use href="#ccr" x="302.8" y="40.2"/><use href="#hl" x="291.5" y="31.5"/><use href="#hr" x="309.1" y="41.2"/><use href="#c" x="302.7" y="20.3"/><use href="#ccr" x="302.7" y="20.3"/><use href="#hr" x="309.0" y="21.3"/>
<use href="#c" x="327.7" y="470.3"/><use href="#c" x="327.5" y="467.4"/><use href="#ccl" x="327.7" y="470.3"/><use href="#ccl" x="327.5" y="467.4"/><use href="#hl" x="321.3" y="468.6"/><use href="#c" x="327.4" y="447.6"/><use href="#c" x="332.4" y="457.4"/><use href="#ccl" x="327.4" y="447.6"/><use href="#ccr" x="332.4" y="457.4"/><use href="#hl" x="321.2" y="448.8"/><use href="#hr" x="338.7" y="458.4"/><use href="#c" x="327.3" y="427.7"/><use href="#c" x="332.3" y="437.6"/><use href="#ccl" x="327.3" y="427.7"/><use href="#ccr" x="332.3" y="437.6"/><use href="#hl" x="321.1" y="428.9"/><use href="#hr" x="338.7" y="438.6"/><use href="#c" x="327.2" y="407.8"/><use href="#c" x="332.3" y="417.7"/><use href="#ccl" x="327.2" y="407.8"/><use href="#ccr" x="332.3" y="417.7"/><use href="#hl" x="321.0" y="409.0"/><use href="#hr" x="338.6" y="418.7"/><use href="#c" x="327.1" y="388.0"/><use href="#c" x="332.2" y="397.8"/><use href="#ccl" x="327.1" y="388.0"/><use href="#ccr" x="332.2" y="397.8"/><use href="#hl" x="320.9" y="389.2"/><use href="#hr" x="338.5" y="398.8"/><use href="#c" x="327.0" y="368.1"/><use href="#c" x="332.1" y="378.0"/><use href="#ccl" x="327.0" y="368.1"/><use href="#ccr" x="332.1" y="378.0"/><use href="#hl" x="320.8" y="369.3"/><use href="#hr" x="338.4" y="379.0"/><use href="#c" x="326.9" y="348.2"/><use href="#c" x="332.0" y="358.1"/><use href="#ccl" x="326.9" y="348.2"/><use href="#ccr" x="332.0" y="358.1"/><use href="#hl" x="320.7" y="349.4"/><use href="#hr" x="338.3" y="359.1"/><use href="#c" x="326.8" y="328.4"/><use href="#c" x="331.9" y="338.2"/><use href="#ccl" x="326.8" y="328.4"/><use href="#ccr" x="331.9" y="338.2"/><use href="#hl" x="320.7" y="329.6"/><use href="#hr" x="338.2" y="339.2"/><use href="#c" x="326.8" y="308.5"/><use href="#c" x="331.8" y="318.4"/><use href="#ccl" x="326.8" y="308.5"/><use href="#ccr" x="331.8" y="318.4"/><use href="#hl" x="320.6" y="309.7"/><use href="#hr" x="338.1" y="319.4"/><use href="#c" x="326.7" y="288.6"/><use href="#c" x="331.7" y="298.5"/><use href="#ccl" x="326.7" y="288.6"/><use href="#ccr" x="331.7" y="298.5"/><use href="#hl" x="320.5" y="289.8"/><use href="#hr" x="338.0" y="299.5"/><use href="#c" x="326.6" y="268.7"/><use href="#c" x="331.6" y="278.6"/><use href="#ccl" x="326.6" y="268.7"/><use href="#ccr" x="331.6" y="278.6"/><use href="#hl" x="320.4" y="269.9"/><use href="#hr" x="337.9" y="279.6"/><use href="#c" x="326.5" y="248.9"/><use href="#c" x="331.5" y="258.7"/><use href="#ccl" x="326.5" y="248.9"/><use href="#ccr" x="331.5" y="258.7"/><use href="#hl" x="320.3" y="250.1"/><use href="#hr" x="337.8" y="259.7"/><use href="#c" x="326.4" y="229.0"/><use href="#c" x="331.4" y="238.9"/><use href="#ccl" x="326.4" y="229.0"/><use href="#ccr" x="331.4" y="238.9"/><use href="#hl" x="320.2" y="230.2"/><use href="#hr" x="337.7" y="239.9"/><use href="#c" x="326.3" y="209.1"/><use href="#c" x="331.3" y="219.0"/><use href="#ccl" x="326.3" y="209.1"/><use href="#ccr" x="331.3" y="219.0"/><use href="#hl" x="320.1" y="210.3"/><use href="#hr" x="337.6" y="220.0"/><use href="#c" x="326.2" y="189.3"/><use href="#c" x="331.3" y="199.1"/><use href="#ccl" x="326.2" y="189.3"/><use href="#ccr" x="331.3" y="199.1"/><use href="#hl" x="320.0" y="190.5"/><use href="#hr" x="337.6" y="200.1"/><use href="#c" x="326.1" y="169.4"/><use href="#c" x="331.2" y="179.3"/><use href="#ccl" x="326.1" y="169.4"/><use href="#ccr" x="331.2" y="179.3"/><use href="#hl" x="319.9" y="170.6"/><use href="#hr" x="337.5" y="180.3"/><use href="#c" x="326.0" y="149.5"/><use href="#c" x="331.1" y="159.4"/><use href="#ccl" x="326.0" y="149.5"/><use href="#ccr" x="331.1" y="159.4"/><use href="#hl" x="319.8" y="150.7"/><use href="#hr" x="337.4" y="160.4"/><use href="#c" x="325.9" y="129.7"/><use href="#c" x="331.0" y="139.5"/><use href="#ccl" x="325.9" y="129.7"/><use href="#ccr" x="331.0" y="139.5"/><use href="#hl" x="319.7" y="130.9"/><use href="#hr" x="337.3" y="140.5"/><use href="#c" x="325.8" y="109.8"/><use href="#c" x="330.9" y="119.7"/><use href="#ccl" x="325.8" y="109.8"/><use href="#ccr" x="330.9" y="119.7"/><use href="#hl" x="319.6" y="111.0"/><use href="#hr" x="337.2" y="120.7"/><use href="#c" x="325.7" y="89.9"/><use href="#c" x="330.8" y="99.8"/><use href="#ccl" x="325.7" y="89.9"/><use href="#ccr" x="330.8" y="99.8"/><use href="#hl" x="319.6" y="91.1"/><use href="#hr" x="337.1" y="100.8"/><use href="#c" x="325.7" y="70.0"/><use href="#c" x="330.7" y="79.9"/><use href="#ccl" x="325.7" y="70.0"/><use href="#ccr" x="330.7" y="79.9"/><use href="#hl" x="319.5" y="71.2"/><use href="#hr" x="337.0" y="80.9"/><use href="#c" x="325.6" y="50.2"/><use href="#c" x="330.6" y="60.0"/><use href="#ccl" x="325.6" y="50.2"/><use href="#ccr" x="330.6" y="60.0"/><use href="#hl" x="319.4" y="51.4"/><use href="#hr" x="336.9" y="61.0"/><use href="#c" x="325.5" y="30.3"/><use href="#c" x="330.5" y="40.2"/><use href="#ccl" x="325.5" y="30.3"/><use href="#ccr" x="330.5" y="40.2"/><use href="#hl" x="319.3" y="31.5"/><use href="#hr" x="336.8" y="41.2"/><use href="#c" x="330.4" y="20.3"/><use href="#ccr" x="330.4" y="20.3"/><use href="#hr" x="336.7" y="21.3"/>
<use href="#c" x="355.4" y="470.3"/><use href="#c" x="355.2" y="467.4"/><use href="#ccl" x="355.4" y="470.3"/><use href="#ccl" x="355.2" y="467.4"/><use href="#hl" x="349.0" y="468.6"/><use href="#c" x="355.1" y="447.6"/><use href="#c" x="360.2" y="457.4"/><use href="#ccl" x="355.1" y="447.6"/><use href="#ccr" x="360.2" y="457.4"/><use href="#hl" x="348.9" y="448.8"/><use href="#hr" x="366.5" y="458.4"/><use href="#c" x="355.0" y="427.7"/><use href="#c" x="360.1" y="437.6"/><use href="#ccl" x="355.0" y="427.7"/><use href="#ccr" x="360.1" y="437.6"/><use href="#hl" x="348.8" y="428.9"/><use href="#hr" x="366.4" y="438.6"/><use href="#c" x="355.0" y="407.8"/><use href="#c" x="360.0" y="417.7"/><use href="#ccl" x="355.0" y="407.8"/><use href="#ccr" x="360.0" y="417.7"/><use href="#hl" x="348.8" y="409.0"/><use href="#hr" x="366.3" y="418.7"/><use href="#c" x="354.9" y="388.0"/><use href="#c" x="359.9" y="397.8"/><use href="#ccl" x="354.9" y="388.0"/><use href="#ccr" x="359.9" y="397.8"/><use href="#hl" x="348.7" y="389.2"/><use href="#hr" x="366.2" y="398.8"/><use href="#c" x="354.8" y="368.1"/><use href="#c" x="359.8" y="378.0"/><use href="#ccl" x="354.8" y="368.1"/><use href="#ccr" x="359.8" y="378.0"/><use href="#hl" x="348.6" y="369.3"/><use href="#hr" x="366.1" y="379.0"/><use href="#c" x="354.7" y="348.2"/><use href="#c" x="359.7" y="358.1"/><use href="#ccl" x="354.7" y="348.2"/><use href="#ccr" x="359.7" y="358.1"/><use href="#hl" x="348.5" y="349.4"/><use href="#hr" x="366.0" y="359.1"/><use href="#c" x="354.6" y="328.4"/><use href="#c" x="359.6" y="338.2"/><use href="#ccl" x="354.6" y="328.4"/><use href="#ccr" x="359.6" y="338.2"/><use href="#hl" x="348.4" y="329.6"/><use href="#hr" x="365.9" y="339.2"/><use href="#c" x="354.5" y="308.5"/><use href="#c" x="359.5" y="318.4"/><use href="#ccl" x="354.5" y="308.5"/><use href="#ccr" x="359.5" y="318.4"/><use href="#hl" x="348.3" y="309.7"/><use href="#hr" x="365.8" y="319.4"/><use href="#c" x="354.4" y="288.6"/><use href="#c" x="359.4" y="298.5"/><use href="#ccl" x="354.4" y="288.6"/><use href="#ccr" x="359.4" y="298.5"/><use href="#hl" x="348.2" y="289.8"/><use href="#hr" x="365.8" y="299.5"/><use href="#c" x="354.3" y="268.7"/><use href="#c" x="359.4" y="278.6"/><use href="#ccl" x="354.3" y="268.7"/><use href="#ccr" x="359.4" y="278.6"/><use href="#hl" x="348.1" y="269.9"/><use href="#hr" x="365.7" y="279.6"/><use href="#c" x="354.2" y="248.9"/><use href="#c" x="359.3" y="258.7"/><use href="#ccl" x="354.2" y="248.9"/><use href="#ccr" x="359.3" y="258.7"/><use href="#hl" x="348.0" y="250.1"/><use href="#hr" x="365.6" y="259.7"/><use href="#c" x="354.1" y="229.0"/><use href="#c" x="359.2" y="238.9"/><use href="#ccl" x="354.1" y="229.0"/><use href="#ccr" x="359.2" y="238.9"/><use href="#hl" x="347.9" y="230.2"/><use href="#hr" x="365.5" y="239.9"/><use href="#c" x="354.0" y="209.1"/><use href="#c" x="359.1" y="219.0"/><use href="#ccl" x="354.0" y="209.1"/><use href="#ccr" x="359.1" y="219.0"/><use href="#hl" x="347.8" y="210.3"/><use href="#hr" x="365.4" y="220.0"/><use href="#c" x="353.9" y="189.3"/><use href="#c" x="359.0" y="199.1"/><use href="#ccl" x="353.9" y="189.3"/><use href="#ccr" x="359.0" y="199.1"/><use href="#hl" x="347.8" y="190.5"/><use href="#hr" x="365.3" y="200.1"/><use href="#c" x="353.9" y="169.4"/><use href="#c" x="358.9" y="179.3"/><use href="#ccl" x="353.9" y="169.4"/><use href="#ccr" x="358.9" y="179.3"/><use href="#hl" x="347.7" y="170.6"/><use href="#hr" x="365.2" y="180.3"/><use href="#c" x="353.8" y="149.5"/><use href="#c" x="358.8" y="159.4"/><use href="#ccl" x="353.8" y="149.5"/><use href="#ccr" x="358.8" y="159.4"/><use href="#hl" x="347.6" y="150.7"/><use href="#hr" x="365.1" y="160.4"/><use href="#c" x="353.7" y="129.7"/><use href="#c" x="358.7" y="139.5"/><use href="#ccl" x="353.7" y="129.7"/><use href="#ccr" x="358.7" y="139.5"/><use href="#hl" x="347.5" y="130.9"/><use href="#hr" x="365.0" y="140.5"/><use href="#c" x="353.6" y="109.8"/><use href="#c" x="358.6" y="119.7"/><use href="#ccl" x="353.6" y="109.8"/><use href="#ccr" x="358.6" y="119.7"/><use href="#hl" x="347.4" y="111.0"/><use href="#hr" x="364.9" y="120.7"/><use href="#c" x="353.5" y="89.9"/><use href="#c" x="358.5" y="99.8"/><use href="#ccl" x="353.5" y="89.9"/><use href="#ccr" x="358.5" y="99.8"/><use href="#hl" x="347.3" y="91.1"/><use href="#hr" x="364.8" y="100.8"/><use href="#c" x="353.4" y="70.0"/><use href="#c" x="358.4" y="79.9"/><use href="#ccl" x="353.4" y="70.0"/><use href="#ccr" x="358.4" y="79.9"/><use href="#hl" x="347.2" y="71.2"/><use href="#hr" x="364.7" y="80.9"/><use href="#c" x="353.3" y="50.2"/><use href="#c" x="358.4" y="60.0"/><use href="#ccl" x="353.3" y="50.2"/><use href="#ccr" x="358.4" y="60.0"/><use href="#hl" x="347.1" y="51.4"/><use href="#hr" x="364.7" y="61.0"/><use href="#c" x="353.2" y="30.3"/><use href="#c" x="358.3" y="40.2"/><use href="#ccl" x="353.2" y="30.3"/><use href="#ccr" x="358.3" y="40.2"/><use href="#hl" x="347.0" y="31.5"/><use href="#hr" x="364.6" y="41.2"/><use href="#c" x="358.2" y="20.3"/><use href="#ccr" x="358.2" y="20.3"/><use href="#hr" x="364.5" y="21.3"/>
<use href="#c" x="383.2" y="470.3"/><use href="#c" x="383.0" y="467.4"/><use href="#ccl" x="383.2" y="470.3"/><use href="#ccl" x="383.0" y="467.4"/><use href="#hl" x="376.8" y="468.6"/><use href="#c" x="382.9" y="447.6"/><use href="#c" x="387.9" y="457.4"/><use href="#ccl" x="382.9" y="447.6"/><use href="#ccr" x="387.9" y="457.4"/><use href="#hl" x="376.7" y="448.8"/><use href="#hr" x="394.2" y="458.4"/><use href="#c" x="382.8" y="427.7"/><use href="#c" x="387.8" y="437.6"/><use href="#ccl" x="382.8" y="427.7"/><use href="#ccr" x="387.8" y="437.6"/><use href="#hl" x="376.6" y="428.9"/><use href="#hr" x="394.1" y="438.6"/><use href="#c" x="382.7" y="407.8"/><use href="#c" x="387.7" y="417.7"/><use href="#ccl" x="382.7" y="407.8"/><use href="#ccr" x="387.7" y="417.7"/><use href="#hl" x="376.5" y="409.0"/><use href="#hr" x="394.0" y="418.7"/><use href="#c" x="382.6" y="388.0"/><use href="#c" x="387.6" y="397.8"/><use href="#ccl" x="382.6" y="388.0"/><use href="#ccr" x="387.6" y="397.8"/><use href="#hl" x="376.4" y="389.2"/><use href="#hr" x="393.9" y="398.8"/><use href="#c" x="382.5" y="368.1"/><use href="#c" x="387.6" y="378.0"/><use href="#ccl" x="382.5" y="368.1"/><use href="#ccr" x="387.6" y="378.0"/><use href="#hl" x="376.3" y="369.3"/><use href="#hr" x="393.9" y="379.0"/><use href="#c" x="382.4" y="348.2"/><use href="#c" x="387.5" y="358.1"/><use href="#ccl" x="382.4" y="348.2"/><use href="#ccr" x="387.5" y="358.1"/><use href="#hl" x="376.2" y="349.4"/><use href="#hr" x="393.8" y="359.1"/><use href="#c" x="382.3" y="328.4"/><use href="#c" x="387.4" y="338.2"/><use href="#ccl" x="382.3" y="328.4"/><use href="#ccr" x="387.4" y="338.2"/><use href="#hl" x="376.1" y="329.6"/><use href="#hr" x="393.7" y="339.2"/><use href="#c" x="382.2" y="308.5"/><use href="#c" x="387.3" y="318.4"/><use href="#ccl" x="382.2" y="308.5"/><use href="#ccr" x="387.3" y="318.4"/><use href="#hl" x="376.0" y="309.7"/><use href="#hr" x="393.6" y="319.4"/><use href="#c" x="382.1" y="288.6"/><use href="#c" x="387.2" y="298.5"/><use href="#ccl" x="382.1" y="288.6"/><use href="#ccr" x="387.2" y="298.5"/><use href="#hl" x="375.9" y="289.8"/><use href="#hr" x="393.5" y="299.5"/><use href="#c" x="382.1" y="268.7"/><use href="#c" x="387.1" y="278.6"/><use href="#ccl" x="382.1" y="268.7"/><use href="#ccr" x="387.1" y="278.6"/><use href="#hl" x="375.9" y="269.9"/><use href="#hr" x="393.4" y="279.6"/><use href="#c" x="382.0" y="248.9"/><use href="#c" x="387.0" y="258.7"/><use href="#ccl" x="382.0" y="248.9"/><use href="#ccr" x="387.0" y="258.7"/><use href="#hl" x="375.8" y="250.1"/><use href="#hr" x="393.3" y="259.7"/><use href="#c" x="381.9" y="229.0"/><use href="#c" x="386.9" y="238.9"/><use href="#ccl" x="381.9" y="229.0"/><use href="#ccr" x="386.9" y="238.9"/><use href="#hl" x="375.7" y="230.2"/><use href="#hr" x="393.2" y="239.9"/><use href="#c" x="381.8" y="209.1"/><use href="#c" x="386.8" y="219.0"/><use href="#ccl" x="381.8" y="209.1"/><use href="#ccr" x="386.8" y="219.0"/><use href="#hl" x="375.6" y="210.3"/><use href="#hr" x="393.1" y="220.0"/><use href="#c" x="381.7" y="189.3"/><use href="#c" x="386.7" y="199.1"/><use href="#ccl" x="381.7" y="189.3"/><use href="#ccr" x="386.7" y="199.1"/><use href="#hl" x="375.5" y="190.5"/><use href="#hr" x="393.0" y="200.1"/><use href="#c" x="381.6" y="169.4"/><use href="#c" x="386.6" y="179.3"/><use href="#ccl" x="381.6" y="169.4"/><use href="#ccr" x="386.6" y="179.3"/><use href="#hl" x="375.4" y="170.6"/><use href="#hr" x="392.9" y="180.3"/><use href="#c" x="381.5" y="149.5"/><use href="#c" x="386.5" y="159.4"/><use href="#ccl" x="381.5" y="149.5"/><use href="#ccr" x="386.5" y="159.4"/><use href="#hl" x="375.3" y="150.7"/><use href="#hr" x="392.9" y="160.4"/><use href="#c" x="381.4" y="129.7"/><use href="#c" x="386.5" y="139.5"/><use href="#ccl" x="381.4" y="129.7"/><use href="#ccr" x="386.5" y="139.5"/><use href="#hl" x="375.2" y="130.9"/><use href="#hr" x="392.8" y="140.5"/><use href="#c" x="381.3" y="109.8"/><use href="#c" x="386.4" y="119.7"/><use href="#ccl" x="381.3" y="109.8"/><use href="#ccr" x="386.4" y="119.7"/><use href="#hl" x="375.1" y="111.0"/><use href="#hr" x="392.7" y="120.7"/><use href="#c" x="381.2" y="89.9"/><use href="#c" x="386.3" y="99.8"/><use href="#ccl" x="381.2" y="89.9"/><use href="#ccr" x="386.3" y="99.8"/><use href="#hl" x="375.0" y="91.1"/><use href="#hr" x="392.6" y="100.8"/><use href="#c" x="381.1" y="70.0"/><use href="#c" x="386.2" y="79.9"/><use href="#ccl" x="381.1" y="70.0"/><use href="#ccr" x="386.2" y="79.9"/><use href="#hl" x="374.9" y="71.2"/><use href="#hr" x="392.5" y="80.9"/><use href="#c" x="381.0" y="50.2"/><use href="#c" x="386.1" y="60.0"/><use href="#ccl" x="381.0" y="50.2"/><use href="#ccr" x="386.1" y="60.0"/><use href="#hl" x="374.9" y="51.4"/><use href="#hr" x="392.4" y="61.0"/><use href="#c" x="381.0" y="30.3"/><use href="#c" x="386.0" y="40.2"/><use href="#ccl" x="381.0" y="30.3"/><use href="#ccr" x="386.0" y="40.2"/><use href="#hl" x="374.8" y="31.5"/><use href="#hr" x="392.3" y="41.2"/><use href="#c" x="385.9" y="20.3"/><use href="#ccr" x="385.9" y="20.3"/><use href="#hr" x="392.2" y="21.3"/>
<use href="#c" x="410.9" y="470.3"/><use href="#c" x="410.7" y="467.4"/><use href="#ccl" x="410.9" y="470.3"/><use href="#ccl" x="410.7" y="467.4"/><use href="#hl" x="404.5" y="468.6"/><use href="#c" x="410.6" y="447.6"/><use href="#c" x="415.7" y="457.4"/><use href="#ccl" x="410.6" y="447.6"/><use href="#ccr" x="415.7" y="457.4"/><use href="#hl" x="404.4" y="448.8"/><use href="#hr" x="422.0" y="458.4"/><use href="#c" x="410.5" y="427.7"/><use href="#c" x="415.6" y="437.6"/><use href="#ccl" x="410.5" y="427.7"/><use href="#ccr" x="415.6" y="437.6"/><use href="#hl" x="404.3" y="428.9"/><use href="#hr" x="421.9" y="438.6"/><use href="#c" x="410.4" y="407.8"/><use href="#c" x="415.5" y="417.7"/><use href="#ccl" x="410.4" y="407.8"/><use href="#ccr" x="415.5" y="417.7"/><use href="#hl" x="404.2" y="409.0"/><use href="#hr" x="421.8" y="418.7"/><use href="#c" x="410.3" y="388.0"/><use href="#c" x="415.4" y="397.8"/><use href="#ccl" x="410.3" y="388.0"/><use href="#ccr" x="415.4" y="397.8"/><use href="#hl" x="404.1" y="389.2"/><use href="#hr" x="421.7" y="398.8"/><use href="#c" x="410.2" y="368.1"/><use href="#c" x="415.3" y="378.0"/><use href="#ccl" x="410.2" y="368.1"/><use href="#ccr" x="415.3" y="378.0"/><use href="#hl" x="404.1" y="369.3"/><use href="#hr" x="421.6" y="379.0"/><use href="#c" x="410.2" y="348.2"/><use href="#c" x="415.2" y="358.1"/><use href="#ccl" x="410.2" y="348.2"/><use href="#ccr" x="415.2" y="358.1"/><use href="#hl" x="404.0" y="349.4"/><use href="#hr" x="421.5" y="359.1"/><use href="#c" x="410.1" y="328.4"/><use href="#c" x="415.1" y="338.2"/><use href="#ccl" x="410.1" y="328.4"/><use href="#ccr" x="415.1" y="338.2"/><use href="#hl" x="403.9" y="329.6"/><use href="#hr" x="421.4" y="339.2"/><use href="#c" x="410.0" y="308.5"/><use href="#c" x="415.0" y="318.4"/><use href="#ccl" x="410.0" y="308.5"/><use href="#ccr" x="415.0" y="318.4"/><use href="#hl" x="403.8" y="309.7"/><use href="#hr" x="421.3" y="319.4"/><use href="#c" x="409.9" y="288.6"/><use href="#c" x="414.9" y="298.5"/><use href="#ccl" x="409.9" y="288.6"/><use href="#ccr" x="414.9" y="298.5"/><use href="#hl" x="403.7" y="289.8"/><use href="#hr" x="421.2" y="299.5"/><use href="#c" x="409.8" y="268.7"/><use href="#c" x="414.8" y="278.6"/><use href="#ccl" x="409.8" y="268.7"/><use href="#ccr" x="414.8" y="278.6"/><use href="#hl" x="403.6" y="269.9"/><use href="#hr" x="421.1" y="279.6"/><use href="#c" x="409.7" y="248.9"/><use href="#c" x="414.7" y="258.7"/><use href="#ccl" x="409.7" y="248.9"/><use href="#ccr" x="414.7" y="258.7"/><use href="#hl" x="403.5" y="250.1"/><use href="#hr" x="421.0" y="259.7"/><use href="#c" x="409.6" y="229.0"/><use href="#c" x="414.7" y="238.9"/><use href="#ccl" x="409.6" y="229.0"/><use href="#ccr" x="414.7" y="238.9"/><use href="#hl" x="403.4" y="230.2"/><use href="#hr" x="421.0" y="239.9"/><use href="#c" x="409.5" y="209.1"/><use href="#c" x="414.6" y="219.0"/><use href="#ccl" x="409.5" y="209.1"/><use href="#ccr" x="414.6" y="219.0"/><use href="#hl" x="403.3" y="210.3"/><use href="#hr" x="420.9" y="220.0"/><use href="#c" x="409.4" y="189.3"/><use href="#c" x="414.5" y="199.1"/><use href="#ccl" x="409.4" y="189.3"/><use href="#ccr" x="414.5" y="199.1"/><use href="#hl" x="403.2" y="190.5"/><use href="#hr" x="420.8" y="200.1"/><use href="#c" x="409.3" y="169.4"/><use href="#c" x="414.4" y="179.3"/><use href="#ccl" x="409.3" y="169.4"/><use href="#ccr" x="414.4" y="179.3"/><use href="#hl" x="403.1" y="170.6"/><use href="#hr" x="420.7" y="180.3"/><use href="#c" x="409.2" y="149.5"/><use href="#c" x="414.3" y="159.4"/><use href="#ccl" x="409.2" y="149.5"/><use href="#ccr" x="414.3" y="159.4"/><use href="#hl" x="403.0" y="150.7"/><use href="#hr" x="420.6" y="160.4"/><use href="#c" x="409.2" y="129.7"/><use href="#c" x="414.2" y="139.5"/><use href="#ccl" x="409.2" y="129.7"/><use href="#ccr" x="414.2" y="139.5"/><use href="#hl" x="403.0" y="130.9"/><use href="#hr" x="420.5" y="140.5"/><use href="#c" x="409.1" y="109.8"/><use href="#c" x="414.1" y="119.7"/><use href="#ccl" x="409.1" y="109.8"/><use href="#ccr" x="414.1" y="119.7"/><use href="#hl" x="402.9" y="111.0"/><use href="#hr" x="420.4" y="120.7"/><use href="#c" x="409.0" y="89.9"/><use href="#c" x="414.0" y="99.8"/><use href="#ccl" x="409.0" y="89.9"/><use href="#ccr" x="414.0" y="99.8"/><use href="#hl" x="402.8" y="91.1"/><use href="#hr" x="420.3" y="100.8"/><use href="#c" x="408.9" y="70.0"/><use href="#c" x="413.9" y="79.9"/><use href="#ccl" x="408.9" y="70.0"/><use href="#ccr" x="413.9" y="79.9"/><use href="#hl" x="402.7" y="71.2"/><use href="#hr" x="420.2" y="80.9"/><use href="#c" x="408.8" y="50.2"/><use href="#c" x="413.8" y="60.0"/><use href="#ccl" x="408.8" y="50.2"/><use href="#ccr" x="413.8" y="60.0"/><use href="#hl" x="402.6" y="51.4"/><use href="#hr" x="420.1" y="61.0"/><use href="#c" x="408.7" y="30.3"/><use href="#c" x="413.7" y="40.2"/><use href="#ccl" x="408.7" y="30.3"/><use href="#ccr" x="413.7" y="40.2"/><use href="#hl" x="402.5" y="31.5"/><use href="#hr" x="420.0" y="41.2"/><use href="#c" x="413.6" y="20.3"/><use href="#ccr" x="413.6" y="20.3"/><use href="#hr" x="420.0" y="21.3"/>
<use href="#c" x="438.7" y="470.3"/><use href="#c" x="438.4" y="467.4"/><use href="#ccl" x="438.7" y="470.3"/><use href="#ccl" x="438.4" y="467.4"/><use href="#hl" x="432.3" y="468.6"/><use href="#c" x="438.4" y="447.6"/><use href="#c" x="443.4" y="457.4"/><use href="#ccl" x="438.4" y="447.6"/><use href="#ccr" x="443.4" y="457.4"/><use href="#hl" x="432.2" y="448.8"/><use href="#hr" x="449.7" y="458.4"/><use href="#c" x="438.3" y="427.7"/><use href="#c" x="443.3" y="437.6"/><use href="#ccl" x="438.3" y="427.7"/><use href="#ccr" x="443.3" y="437.6"/><use href="#hl" x="432.1" y="428.9"/><use href="#hr" x="449.6" y="438.6"/><use href="#c" x="438.2" y="407.8"/><use href="#c" x="443.2" y="417.7"/><use href="#ccl" x="438.2" y="407.8"/><use href="#ccr" x="443.2" y="417.7"/><use href="#hl" x="432.0" y="409.0"/><use href="#hr" x="449.5" y="418.7"/><use href="#c" x="438.1" y="388.0"/><use href="#c" x="443.1" y="397.8"/><use href="#ccl" x="438.1" y="388.0"/><use href="#ccr" x="443.1" y="397.8"/><use href="#hl" x="431.9" y="389.2"/><use href="#hr" x="449.4" y="398.8"/><use href="#c" x="438.0" y="368.1"/><use href="#c" x="443.0" y="378.0"/><use href="#ccl" x="438.0" y="368.1"/><use href="#ccr" x="443.0" y="378.0"/><use href="#hl" x="431.8" y="369.3"/><use href="#hr" x="449.3" y="379.0"/><use href="#c" x="437.9" y="348.2"/><use href="#c" x="442.9" y="358.1"/><use href="#ccl" x="437.9" y="348.2"/><use href="#ccr" x="442.9" y="358.1"/><use href="#hl" x="431.7" y="349.4"/><use href="#hr" x="449.2" y="359.1"/><use href="#c" x="437.8" y="328.4"/><use href="#c" x="442.9" y="338.2"/><use href="#ccl" x="437.8" y="328.4"/><use href="#ccr" x="442.9" y="338.2"/><use href="#hl" x="431.6" y="329.6"/><use href="#hr" x="449.2" y="339.2"/><use href="#c" x="437.7" y="308.5"/><use href="#c" x="442.8" y="318.4"/><use href="#ccl" x="437.7" y="308.5"/><use href="#ccr" x="442.8" y="318.4"/><use href="#hl" x="431.5" y="309.7"/><use href="#hr" x="449.1" y="319.4"/><use href="#c" x="437.6" y="288.6"/><use href="#c" x="442.7" y="298.5"/><use href="#ccl" x="437.6" y="288.6"/><use href="#ccr" x="442.7" y="298.5"/><use href="#hl" x="431.4" y="289.8"/><use href="#hr" x="449.0" y="299.5"/><use href="#c" x="437.5" y="268.7"/><use href="#c" x="442.6" y="278.6"/><use href="#ccl" x="437.5" y="268.7"/><use href="#ccr" x="442.6" y="278.6"/><use href="#hl" x="431.3" y="269.9"/><use href="#hr" x="448.9" y="279.6"/><use href="#c" x="437.4" y="248.9"/><use href="#c" x="442.5" y="258.7"/><use href="#ccl" x="437.4" y="248.9"/><use href="#ccr" x="442.5" y="258.7"/><use href="#hl" x="431.2" y="250.1"/><use href="#hr" x="448.8" y="259.7"/><use href="#c" x="437.3" y="229.0"/><use href="#c" x="442.4" y="238.9"/><use href="#ccl" x="437.3" y="229.0"/><use href="#ccr" x="442.4" y="238.9"/><use href="#hl" x="431.2" y="230.2"/><use href="#hr" x="448.7" y="239.9"/><use href="#c" x="437.3" y="209.1"/><use href="#c" x="442.3" y="219.0"/><use href="#ccl" x="437.3" y="209.1"/><use href="#ccr" x="442.3" y="219.0"/><use href="#hl" x="431.1" y="210.3"/><use href="#hr" x="448.6" y="220.0"/><use href="#c" x="437.2" y="189.3"/><use href="#c" x="442.2" y="199.1"/><use href="#ccl" x="437.2" y="189.3"/><use href="#ccr" x="442.2" y="199.1"/><use href="#hl" x="431.0" y="190.5"/><use href="#hr" x="448.5" y="200.1"/><use href="#c" x="437.1" y="169.4"/><use href="#c" x="442.1" y="179.3"/><use href="#ccl" x="437.1" y="169.4"/><use href="#ccr" x="442.1" y="179.3"/><use href="#hl" x="430.9" y="170.6"/><use href="#hr" x="448.4" y="180.3"/><use href="#c" x="437.0" y="149.5"/><use href="#c" x="442.0" y="159.4"/><use href="#ccl" x="437.0" y="149.5"/><use href="#ccr" x="442.0" y="159.4"/><use href="#hl" x="430.8" y="150.7"/><use href="#hr" x="448.3" y="160.4"/><use href="#c" x="436.9" y="129.7"/><use href="#c" x="441.9" y="139.5"/><use href="#ccl" x="436.9" y="129.7"/><use href="#ccr" x="441.9" y="139.5"/><use href="#hl" x="430.7" y="130.9"/><use href="#hr" x="448.2" y="140.5"/><use href="#c" x="436.8" y="109.8"/><use href="#c" x="441.8" y="119.7"/><use href="#ccl" x="436.8" y="109.8"/><use href="#ccr" x="441.8" y="119.7"/><use href="#hl" x="430.6" y="111.0"/><use href="#hr" x="448.2" y="120.7"/><use href="#c" x="436.7" y="89.9"/><use href="#c" x="441.8" y="99.8"/><use href="#ccl" x="436.7" y="89.9"/><use href="#ccr" x="441.8" y="99.8"/><use href="#hl" x="430.5" y="91.1"/><use href="#hr" x="448.1" y="100.8"/><use href="#c" x="436.6" y="70.0"/><use href="#c" x="441.7" y="79.9"/><use href="#ccl" x="436.6" y="70.0"/><use href="#ccr" x="441.7" y="79.9"/><use href="#hl" x="430.4" y="71.2"/><use href="#hr" x="448.0" y="80.9"/><use href="#c" x="436.5" y="50.2"/><use href="#c" x="441.6" y="60.0"/><use href="#ccl" x="436.5" y="50.2"/><use href="#ccr" x="441.6" y="60.0"/><use href="#hl" x="430.3" y="51.4"/><use href="#hr" x="447.9" y="61.0"/><use href="#c" x="436.4" y="30.3"/><use href="#c" x="441.5" y="40.2"/><use href="#ccl" x="436.4" y="30.3"/><use href="#ccr" x="441.5" y="40.2"/><use href="#hl" x="430.2" y="31.5"/><use href="#hr" x="447.8" y="41.2"/><use href="#c" x="441.4" y="20.3"/><use href="#ccr" x="441.4" y="20.3"/><use href="#hr" x="447.7" y="21.3"/>
<use href="#c" x="466.4" y="470.3"/><use href="#c" x="466.2" y="467.4"/><use href="#ccl" x="466.4" y="470.3"/><use href="#ccl" x="466.2" y="467.4"/><use href="#hl" x="460.0" y="468.6"/><use href="#c" x="466.1" y="447.6"/><use href="#c" x="471.1" y="457.4"/><use href="#ccl" x="466.1" y="447.6"/><use href="#ccr" x="471.1" y="457.4"/><use href="#hl" x="459.9" y="448.8"/><use href="#hr" x="477.4" y="458.4"/><use href="#c" x="466.0" y="427.7"/><use href="#c" x="471.0" y="437.6"/><use href="#ccl" x="466.0" y="427.7"/><use href="#ccr" x="471.0" y="437.6"/><use href="#hl" x="459.8" y="428.9"/><use href="#hr" x="477.4" y="438.6"/><use href="#c" x="465.9" y="407.8"/><use href="#c" x="471.0" y="417.7"/><use href="#ccl" x="465.9" y="407.8"/><use href="#ccr" x="471.0" y="417.7"/><use href="#hl" x="459.7" y="409.0"/><use href="#hr" x="477.3" y="418.7"/><use href="#c" x="465.8" y="388.0"/><use href="#c" x="470.9" y="397.8"/><use href="#ccl" x="465.8" y="388.0"/><use href="#ccr" x="470.9" y="397.8"/><use href="#hl" x="459.6" y="389.2"/><use href="#hr" x="477.2" y="398.8"/><use href="#c" x="465.7" y="368.1"/><use href="#c" x="470.8" y="378.0"/><use href="#ccl" x="465.7" y="368.1"/><use href="#ccr" x="470.8" y="378.0"/><use href="#hl" x="459.5" y="369.3"/><use href="#hr" x="477.1" y="379.0"/><use href="#c" x="465.6" y="348.2"/><use href="#c" x="470.7" y="358.1"/><use href="#ccl" x="465.6" y="348.2"/><use href="#ccr" x="470.7" y="358.1"/><use href="#hl" x="459.4" y="349.4"/><use href="#hr" x="477.0" y="359.1"/><use href="#c" x="465.5" y="328.4"/><use href="#c" x="470.6" y="338.2"/><use href="#ccl" x="465.5" y="328.4"/><use href="#ccr" x="470.6" y="338.2"/><use href="#hl" x="459.4" y="329.6"/><use href="#hr" x="476.9" y="339.2"/><use href="#c" x="465.5" y="308.5"/><use href="#c" x="470.5" y="318.4"/><use href="#ccl" x="465.5" y="308.5"/><use href="#ccr" x="470.5" y="318.4"/><use href="#hl" x="459.3" y="309.7"/><use href="#hr" x="476.8" y="319.4"/><use href="#c" x="465.4" y="288.6"/><use href="#c" x="470.4" y="298.5"/><use href="#ccl" x="465.4" y="288.6"/><use href="#ccr" x="470.4" y="298.5"/><use href="#hl" x="459.2" y="289.8"/><use href="#hr" x="476.7" y="299.5"/><use href="#c" x="465.3" y="268.7"/><use href="#c" x="470.3" y="278.6"/><use href="#ccl" x="465.3" y="268.7"/><use href="#ccr" x="470.3" y="278.6"/><use href="#hl" x="459.1" y="269.9"/><use href="#hr" x="476.6" y="279.6"/><use href="#c" x="465.2" y="248.9"/><use href="#c" x="470.2" y="258.7"/><use href="#ccl" x="465.2" y="248.9"/><use href="#ccr" x="470.2" y="258.7"/><use href="#hl" x="459.0" y="250.1"/><use href="#hr" x="476.5" y="259.7"/><use href="#c" x="465.1" y="229.0"/><use href="#c" x="470.1" y="238.9"/><use href="#ccl" x="465.1" y="229.0"/><use href="#ccr" x="470.1" y="238.9"/><use href="#hl" x="458.9" y="230.2"/><use href="#hr" x="476.4" y="239.9"/><use href="#c" x="465.0" y="209.1"/><use href="#c" x="470.0" y="219.0"/><use href="#ccl" x="465.0" y="209.1"/><use href="#ccr" x="470.0" y="219.0"/><use href="#hl" x="458.8" y="210.3"/><use href="#hr" x="476.3" y="220.0"/><use href="#c" x="464.9" y="189.3"/><use href="#c" x="470.0" y="199.1"/><use href="#ccl" x="464.9" y="189.3"/><use href="#ccr" x="470.0" y="199.1"/><use href="#hl" x="458.7" y="190.5"/><use href="#hr" x="476.3" y="200.1"/><use href="#c" x="464.8" y="169.4"/><use href="#c" x="469.9" y="179.3"/><use href="#ccl" x="464.8" y="169.4"/><use href="#ccr" x="469.9" y="179.3"/><use href="#hl" x="458.6" y="170.6"/><use href="#hr" x="476.2" y="180.3"/><use href="#c" x="464.7" y="149.5"/><use href="#c" x="469.8" y="159.4"/><use href="#ccl" x="464.7" y="149.5"/><use href="#ccr" x="469.8" y="159.4"/><use href="#hl" x="458.5" y="150.7"/><use href="#hr" x="476.1" y="160.4"/><use href="#c" x="464.6" y="129.7"/><use href="#c" x="469.7" y="139.5"/><use href="#ccl" x="464.6" y="129.7"/><use href="#ccr" x="469.7" y="139.5"/><use href="#hl" x="458.4" y="130.9"/><use href="#hr" x="476.0" y="140.5"/><use href="#c" x="464.5" y="109.8"/><use href="#c" x="469.6" y="119.7"/><use href="#ccl" x="464.5" y="109.8"/><use href="#ccr" x="469.6" y="119.7"/><use href="#hl" x="458.3" y="111.0"/><use href="#hr" x="475.9" y="120.7"/><use href="#c" x="464.4" y="89.9"/><use href="#c" x="469.5" y="99.8"/><use href="#ccl" x="464.4" y="89.9"/><use href="#ccr" x="469.5" y="99.8"/><use href="#hl" x="458.3" y="91.1"/><use href="#hr" x="475.8" y="100.8"/><use href="#c" x="464.4" y="70.0"/><use href="#c" x="469.4" y="79.9"/><use href="#ccl" x="464.4" y="70.0"/><use href="#ccr" x="469.4" y="79.9"/><use href="#hl" x="458.2" y="71.2"/><use href="#hr" x="475.7" y="80.9"/><use href="#c" x="464.3" y="50.2"/><use href="#c" x="469.3" y="60.0"/><use href="#ccl" x="464.3" y="50.2"/><use href="#ccr" x="469.3" y="60.0"/><use href="#hl" x="458.1" y="51.4"/><use href="#hr" x="475.6" y="61.0"/><use href="#c" x="464.2" y="30.3"/><use href="#c" x="469.2" y="40.2"/><use href="#ccl" x="464.2" y="30.3"/><use href="#ccr" x="469.2" y="40.2"/><use href="#hl" x="458.0" y="31.5"/><use href="#hr" x="475.5" y="41.2"/><use href="#c" x="469.1" y="20.3"/><use href="#ccr" x="469.1" y="20.3"/><use href="#hr" x="475.4" y="21.3"/>
<use href="#c" x="494.1" y="470.3"/><use href="#c" x="493.9" y="467.4"/><use href="#ccl" x="494.1" y="470.3"/><use href="#ccl" x="493.9" y="467.4"/><use href="#hl" x="487.7" y="468.6"/><use href="#c" x="493.8" y="447.6"/><use href="#c" x="498.9" y="457.4"/><use href="#ccl" x="493.8" y="447.6"/><use href="#ccr" x="498.9" y="457.4"/><use href="#hl" x="487.6" y="448.8"/><use href="#hr" x="505.2" y="458.4"/><use href="#c" x="493.7" y="427.7"/><use href="#c" x="498.8" y="437.6"/><use href="#ccl" x="493.7" y="427.7"/><use href="#ccr" x="498.8" y="437.6"/><use href="#hl" x="487.5" y="428.9"/><use href="#hr" x="505.1" y="438.6"/><use href="#c" x="493.7" y="407.8"/><use href="#c" x="498.7" y="417.7"/><use href="#ccl" x="493.7" y="407.8"/><use href="#ccr" x="498.7" y="417.7"/><use href="#hl" x="487.5" y="409.0"/><use href="#hr" x="505.0" y="418.7"/><use href="#c" x="493.6" y="388.0"/><use href="#c" x="498.6" y="397.8"/><use href="#ccl" x="493.6" y="388.0"/><use href="#ccr" x="498.6" y="397.8"/><use href="#hl" x="487.4" y="389.2"/><use href="#hr" x="504.9" y="398.8"/><use href="#c" x="493.5" y="368.1"/><use href="#c" x="498.5" y="378.0"/><use href="#ccl" x="493.5" y="368.1"/><use href="#ccr" x="498.5" y="378.0"/><use href="#hl" x="487.3" y="369.3"/><use href="#hr" x="504.8" y="379.0"/><use href="#c" x="493.4" y="348.2"/><use href="#c" x="498.4" y="358.1"/><use href="#ccl" x="493.4" y="348.2"/><use href="#ccr" x="498.4" y="358.1"/><use href="#hl" x="487.2" y="349.4"/><use href="#hr" x="504.7" y="359.1"/><use href="#c" x="493.3" y="328.4"/><use href="#c" x="498.3" y="338.2"/><use href="#ccl" x="493.3" y="328.4"/><use href="#ccr" x="498.3" y="338.2"/><use href="#hl" x="487.1" y="329.6"/><use href="#hr" x="504.6" y="339.2"/><use href="#c" x="493.2" y="308.5"/><use href="#c" x="498.2" y="318.4"/><use href="#ccl" x="493.2" y="308.5"/><use href="#ccr" x="498.2" y="318.4"/><use href="#hl" x="487.0" y="309.7"/><use href="#hr" x="504.5" y="319.4"/><use href="#c" x="493.1" y="288.6"/><use href="#c" x="498.1" y="298.5"/><use href="#ccl" x="493.1" y="288.6"/><use href="#ccr" x="498.1" y="298.5"/><use href="#hl" x="486.9" y="289.8"/><use href="#hr" x="504.5" y="299.5"/><use href="#c" x="493.0" y="268.7"/><use href="#c" x="498.1" y="278.6"/><use href="#ccl" x="493.0" y="268.7"/><use href="#ccr" x="498.1" y="278.6"/><use href="#hl" x="486.8" y="269.9"/><use href="#hr" x="504.4" y="279.6"/><use href="#c" x="492.9" y="248.9"/><use href="#c" x="498.0" y="258.7"/><use href="#ccl" x="492.9" y="248.9"/><use href="#ccr" x="498.0" y="258.7"/><use href="#hl" x="486.7" y="250.1"/><use href="#hr" x="504.3" y="259.7"/><use href="#c" x="492.8" y="229.0"/><use href="#c" x="497.9" y="238.9"/><use href="#ccl" x="492.8" y="229.0"/><use href="#ccr" x="497.9" y="238.9"/><use href="#hl" x="486.6" y="230.2"/><use href="#hr" x="504.2" y="239.9"/><use href="#c" x="492.7" y="209.1"/><use href="#c" x="497.8" y="219.0"/><use href="#ccl" x="492.7" y="209.1"/><use href="#ccr" x="497.8" y="219.0"/><use href="#hl" x="486.5" y="210.3"/><use href="#hr" x="504.1" y="220.0"/><use href="#c" x="492.6" y="189.3"/><use href="#c" x="497.7" y="199.1"/><use href="#ccl" x="492.6" y="189.3"/><use href="#ccr" x="497.7" y="199.1"/><use href="#hl" x="486.5" y="190.5"/><use href="#hr" x="504.0" y="200.1"/><use href="#c" x="492.6" y="169.4"/><use href="#c" x="497.6" y="179.3"/><use href="#ccl" x="492.6" y="169.4"/><use href="#ccr" x="497.6" y="179.3"/><use href="#hl" x="486.4" y="170.6"/><use href="#hr" x="503.9" y="180.3"/><use href="#c" x="492.5" y="149.5"/><use href="#c" x="497.5" y="159.4"/><use href="#ccl" x="492.5" y="149.5"/><use href="#ccr" x="497.5" y="159.4"/><use href="#hl" x="486.3" y="150.7"/><use href="#hr" x="503.8" y="160.4"/><use href="#c" x="492.4" y="129.7"/><use href="#c" x="497.4" y="139.5"/><use href="#ccl" x="492.4" y="129.7"/><use href="#ccr" x="497.4" y="139.5"/><use href="#hl" x="486.2" y="130.9"/><use href="#hr" x="503.7" y="140.5"/><use href="#c" x="492.3" y="109.8"/><use href="#c" x="497.3" y="119.7"/><use href="#ccl" x="492.3" y="109.8"/><use href="#ccr" x="497.3" y="119.7"/><use href="#hl" x="486.1" y="111.0"/><use href="#hr" x="503.6" y="120.7"/><use href="#c" x="492.2" y="89.9"/><use href="#c" x="497.2" y="99.8"/><use href="#ccl" x="492.2" y="89.9"/><use href="#ccr" x="497.2" y="99.8"/><use href="#hl" x="486.0" y="91.1"/><use href="#hr" x="503.5" y="100.8"/><use href="#c" x="492.1" y="70.0"/><use href="#c" x="497.1" y="79.9"/><use href="#ccl" x="492.1" y="70.0"/><use href="#ccr" x="497.1" y="79.9"/><use href="#hl" x="485.9" y="71.2"/><use href="#hr" x="503.4" y="80.9"/><use href="#c" x="492.0" y="50.2"/><use href="#c" x="497.1" y="60.0"/><use href="#ccl" x="492.0" y="50.2"/><use href="#ccr" x="497.1" y="60.0"/><use href="#hl" x="485.8" y="51.4"/><use href="#hr" x="503.4" y="61.0"/><use href="#c" x="491.9" y="30.3"/><use href="#c" x="497.0" y="40.2"/><use href="#ccl" x="491.9" y="30.3"/><use href="#ccr" x="497.0" y="40.2"/><use href="#hl" x="485.7" y="31.5"/><use href="#hr" x="503.3" y="41.2"/><use href="#c" x="496.9" y="20.3"/><use href="#ccr" x="496.9" y="20.3"/><use href="#hr" x="503.2" y="21.3"/>
<use href="#c" x="521.9" y="470.3"/><use href="#c" x="521.7" y="467.4"/><use href="#ccl" x="521.9" y="470.3"/><use href="#ccl" x="521.7" y="467.4"/><use href="#hl" x="515.5" y="468.6"/><use href="#c" x="521.6" y="447.6"/><use href="#c" x="526.6" y="457.4"/><use href="#ccl" x="521.6" y="447.6"/><use href="#ccr" x="526.6" y="457.4"/><use href="#hl" x="515.4" y="448.8"/><use href="#hr" x="532.9" y="458.4"/><use href="#c" x="521.5" y="427.7"/><use href="#c" x="526.5" y="437.6"/><use href="#ccl" x="521.5" y="427.7"/><use href="#ccr" x="526.5" y="437.6"/><use href="#hl" x="515.3" y="428.9"/><use href="#hr" x="532.8" y="438.6"/><use href="#c" x="521.4" y="407.8"/><use href="#c" x="526.4" y="417.7"/><use href="#ccl" x="521.4" y="407.8"/><use href="#ccr" x="526.4" y="417.7"/><use href="#hl" x="515.2" y="409.0"/><use href="#hr" x="532.7" y="418.7"/><use href="#c" x="521.3" y="388.0"/><use href="#c" x="526.3" y="397.8"/><use href="#ccl" x="521.3" y="388.0"/><use href="#ccr" x="526.3" y="397.8"/><use href="#hl" x="515.1" y="389.2"/><use href="#hr" x="532.6" y="398.8"/><use href="#c" x="521.2" y="368.1"/><use href="#c" x="526.3" y="378.0"/><use href="#ccl" x="521.2" y="368.1"/><use href="#ccr" x="526.3" y="378.0"/><use href="#hl" x="515.0" y="369.3"/><use href="#hr" x="532.6" y="379.0"/><use href="#c" x="521.1" y="348.2"/><use href="#c" x="526.2" y="358.1"/><use href="#ccl" x="521.1" y="348.2"/><use href="#ccr" x="526.2" y="358.1"/><use href="#hl" x="514.9" y="349.4"/><use href="#hr" x="532.5" y="359.1"/><use href="#c" x="521.0" y="328.4"/><use href="#c" x="526.1" y="338.2"/><use href="#ccl" x="521.0" y="328.4"/><use href="#ccr" x="526.1" y="338.2"/><use href="#hl" x="514.8" y="329.6"/><use href="#hr" x="532.4" y="339.2"/><use href="#c" x="520.9" y="308.5"/><use href="#c" x="526.0" y="318.4"/><use href="#ccl" x="520.9" y="308.5"/><use href="#ccr" x="526.0" y="318.4"/><use href="#hl" x="514.7" y="309.7"/><use href="#hr" x="532.3" y="319.4"/><use href="#c" x="520.8" y="288.6"/><use href="#c" x="525.9" y="298.5"/><use href="#ccl" x="520.8" y="288.6"/><use href="#ccr" x="525.9" y="298.5"/><use href="#hl" x="514.6" y="289.8"/><use href="#hr" x="532.2" y="299.5"/><use href="#c" x="520.8" y="268.7"/><use href="#c" x="525.8" y="278.6"/><use href="#ccl" x="520.8" y="268.7"/><use href="#ccr" x="525.8" y="278.6"/><use href="#hl" x="514.6" y="269.9"/><use href="#hr" x="532.1" y="279.6"/><use href="#c" x="520.7" y="248.9"/><use href="#c" x="525.7" y="258.7"/><use href="#ccl" x="520.7" y="248.9"/><use href="#ccr" x="525.7" y="258.7"/><use href="#hl" x="514.5" y="250.1"/><use href="#hr" x="532.0" y="259.7"/><use href="#c" x="520.6" y="229.0"/><use href="#c" x="525.6" y="238.9"/><use href="#ccl" x="520.6" y="229.0"/><use href="#ccr" x="525.6" y="238.9"/><use href="#hl" x="514.4" y="230.2"/><use href="#hr" x="531.9" y="239.9"/><use href="#c" x="520.5" y="209.1"/><use href="#c" x="525.5" y="219.0"/><use href="#ccl" x="520.5" y="209.1"/><use href="#ccr" x="525.5" y="219.0"/><use href="#hl" x="514.3" y="210.3"/><use href="#hr" x="531.8" y="220.0"/><use href="#c" x="520.4" y="189.3"/><use href="#c" x="525.4" y="199.1"/><use href="#ccl" x="520.4" y="189.3"/><use href="#ccr" x="525.4" y="199.1"/><use href="#hl" x="514.2" y="190.5"/><use href="#hr" x="531.7" y="200.1"/><use href="#c" x="520.3" y="169.4"/><use href="#c" x="525.3" y="179.3"/><use href="#ccl" x="520.3" y="169.4"/><use href="#ccr" x="525.3" y="179.3"/><use href="#hl" x="514.1" y="170.6"/><use href="#hr" x="531.6" y="180.3"/><use href="#c" x="520.2" y="149.5"/><use href="#c" x="525.2" y="159.4"/><use href="#ccl" x="520.2" y="149.5"/><use href="#ccr" x="525.2" y="159.4"/><use href="#hl" x="514.0" y="150.7"/><use href="#hr" x="531.6" y="160.4"/><use href="#c" x="520.1" y="129.7"/><use href="#c" x="525.2" y="139.5"/><use href="#ccl" x="520.1" y="129.7"/><use href="#ccr" x="525.2" y="139.5"/><use href="#hl" x="513.9" y="130.9"/><use href="#hr" x="531.5" y="140.5"/><use href="#c" x="520.0" y="109.8"/><use href="#c" x="525.1" y="119.7"/><use href="#ccl" x="520.0" y="109.8"/><use href="#ccr" x="525.1" y="119.7"/><use href="#hl" x="513.8" y="111.0"/><use href="#hr" x="531.4" y="120.7"/><use href="#c" x="519.9" y="89.9"/><use href="#c" x="525.0" y="99.8"/><use href="#ccl" x="519.9" y="89.9"/><use href="#ccr" x="525.0" y="99.8"/><use href="#hl" x="513.7" y="91.1"/><use href="#hr" x="531.3" y="100.8"/><use href="#c" x="519.8" y="70.0"/><use href="#c" x="524.9" y="79.9"/><use href="#ccl" x="519.8" y="70.0"/><use href="#ccr" x="524.9" y="79.9"/><use href="#hl" x="513.6" y="71.2"/><use href="#hr" x="531.2" y="80.9"/><use href="#c" x="519.7" y="50.2"/><use href="#c" x="524.8" y="60.0"/><use href="#ccl" x="519.7" y="50.2"/><use href="#ccr" x="524.8" y="60.0"/><use href="#hl" x="513.6" y="51.4"/><use href="#hr" x="531.1" y="61.0"/><use href="#c" x="519.7" y="30.3"/><use href="#c" x="524.7" y="40.2"/><use href="#ccl" x="519.7" y="30.3"/><use href="#ccr" x="524.7" y="40.2"/><use href="#hl" x="513.5" y="31.5"/><use href="#hr" x="531.0" y="41.2"/><use href="#c" x="524.6" y="20.3"/><use href="#ccr" x="524.6" y="20.3"/><use href="#hr" x="530.9" y="21.3"/>
</g>
<text x="63.3" y="26.5" font-family="Liberation Serif, serif" font-size="58" fill="#000">a</text>
<text x="64.8" y="604.6" font-family="Liberation Serif, serif" font-size="56" fill="#000">b</text>
<text x="581" y="210" font-family="Liberation Serif, serif" font-weight="bold" font-size="32.4" letter-spacing="0.15" fill="#000">…-CH<tspan font-size="21" dy="7">2</tspan><tspan dy="-7">-CH</tspan><tspan font-size="21" dy="7">2</tspan><tspan dy="-7">-…</tspan></text>
<path d="M577,272 L586.6,263.8 L606.4,277.0 L626.0,263.8 L645.0,277.0 L664.6,263.8 L683.9,277.0 L704.0,263.8 L723.0,277.0 L742.7,263.8 L762.3,277.0 L771,270" fill="none" stroke="#2f8f9b" stroke-width="2.2" stroke-linejoin="round"/>
<line x1="586.6" y1="263.8" x2="586.6" y2="255.8" stroke="#c9d3d4" stroke-width="2.2"/>
<circle cx="586.6" cy="254.8" r="3.7" fill="url(#gHs)"/>
<line x1="626.0" y1="263.8" x2="626.0" y2="255.8" stroke="#c9d3d4" stroke-width="2.2"/>
<circle cx="626.0" cy="254.8" r="3.7" fill="url(#gHs)"/>
<line x1="664.6" y1="263.8" x2="664.6" y2="255.8" stroke="#c9d3d4" stroke-width="2.2"/>
<circle cx="664.6" cy="254.8" r="3.7" fill="url(#gHs)"/>
<line x1="704.0" y1="263.8" x2="704.0" y2="255.8" stroke="#c9d3d4" stroke-width="2.2"/>
<circle cx="704.0" cy="254.8" r="3.7" fill="url(#gHs)"/>
<line x1="742.7" y1="263.8" x2="742.7" y2="255.8" stroke="#c9d3d4" stroke-width="2.2"/>
<circle cx="742.7" cy="254.8" r="3.7" fill="url(#gHs)"/>
<line x1="606.4" y1="277.0" x2="606.4" y2="285.0" stroke="#c9d3d4" stroke-width="2.2"/>
<circle cx="606.4" cy="286.6" r="3.7" fill="url(#gHs)"/>
<line x1="645.0" y1="277.0" x2="645.0" y2="285.0" stroke="#c9d3d4" stroke-width="2.2"/>
<circle cx="645.0" cy="286.6" r="3.7" fill="url(#gHs)"/>
<line x1="683.9" y1="277.0" x2="683.9" y2="285.0" stroke="#c9d3d4" stroke-width="2.2"/>
<circle cx="683.9" cy="286.6" r="3.7" fill="url(#gHs)"/>
<line x1="723.0" y1="277.0" x2="723.0" y2="285.0" stroke="#c9d3d4" stroke-width="2.2"/>
<circle cx="723.0" cy="286.6" r="3.7" fill="url(#gHs)"/>
<line x1="762.3" y1="277.0" x2="762.3" y2="285.0" stroke="#c9d3d4" stroke-width="2.2"/>
<circle cx="762.3" cy="286.6" r="3.7" fill="url(#gHs)"/>
<circle cx="586.6" cy="263.8" r="5.2" fill="url(#gCs)"/>
<circle cx="626.0" cy="263.8" r="5.2" fill="url(#gCs)"/>
<circle cx="664.6" cy="263.8" r="5.2" fill="url(#gCs)"/>
<circle cx="704.0" cy="263.8" r="5.2" fill="url(#gCs)"/>
<circle cx="742.7" cy="263.8" r="5.2" fill="url(#gCs)"/>
<circle cx="606.4" cy="277.0" r="5.2" fill="url(#gCs)"/>
<circle cx="645.0" cy="277.0" r="5.2" fill="url(#gCs)"/>
<circle cx="683.9" cy="277.0" r="5.2" fill="url(#gCs)"/>
<circle cx="723.0" cy="277.0" r="5.2" fill="url(#gCs)"/>
<circle cx="762.3" cy="277.0" r="5.2" fill="url(#gCs)"/>
<circle cx="794" cy="273" r="8.5" fill="url(#gCs)"/>
<text x="826" y="284.5" font-family="Liberation Serif, serif" font-size="33" fill="#000">C</text>
<circle cx="894" cy="273" r="7" fill="url(#gHs)"/>
<text x="920" y="284.5" font-family="Liberation Serif, serif" font-size="33" fill="#000">H</text>
<rect x="132.2" y="524.0" width="96.9" height="82.4" fill="#fdeee0"/>
<text x="146.0" y="558.2" font-family="Liberation Serif, serif" font-weight="bold" font-size="28.6" fill="#000">C in</text>
<text x="146.0" y="592.5" font-family="Liberation Serif, serif" font-weight="bold" font-size="28.6" fill="#000">Phe</text>
<rect x="234.7" y="522.7" width="99.3" height="83.7" fill="#dff2f9"/>
<text x="248.8" y="558.2" font-family="Liberation Serif, serif" font-weight="bold" font-size="28.6" fill="#000">C in</text>
<text x="248.8" y="592.5" font-family="Liberation Serif, serif" font-weight="bold" font-size="28.6" fill="#000">Glu</text>
<rect x="339.6" y="522.7" width="96.9" height="83.7" fill="#e6e0f0"/>
<text x="354.0" y="558.2" font-family="Liberation Serif, serif" font-weight="bold" font-size="28.6" fill="#000">C in</text>
<text x="354.0" y="592.5" font-family="Liberation Serif, serif" font-weight="bold" font-size="28.6" fill="#000">Thr</text>
<rect x="436.5" y="522.7" width="111.1" height="83.7" fill="#eff5e3"/>
<text x="452.0" y="558.2" font-family="Liberation Serif, serif" font-weight="bold" font-size="28.6" fill="#000">C in</text>
<text x="452.0" y="592.5" font-family="Liberation Serif, serif" font-weight="bold" font-size="28.6" fill="#000">Hisp</text>
<rect x="547.6" y="522.7" width="108.6" height="83.7" fill="#f8dede"/>
<text x="561.7" y="558.2" font-family="Liberation Serif, serif" font-weight="bold" font-size="28.6" fill="#000">C in</text>
<text x="561.7" y="592.5" font-family="Liberation Serif, serif" font-weight="bold" font-size="28.6" fill="#000">Hisd</text>
<rect x="656.2" y="521.4" width="273.8" height="84.6" fill="#dfe8f5"/>
<text x="668.8" y="556.8" font-family="Liberation Serif, serif" font-weight="bold" font-size="28.6" fill="#000">C in benzyl methyl</text>
<text x="668.8" y="591.1" font-family="Liberation Serif, serif" font-weight="bold" font-size="28.6" fill="#000">phosphonate</text>
<rect x="174.9" y="1024.9" width="38.9" height="66.1" fill="#000"/>
<rect x="213.8" y="1025.1" width="38.9" height="65.9" fill="url(#hatch)" stroke="#991818" stroke-width="1.2"/>
<rect x="271.4" y="999.8" width="38.9" height="91.2" fill="#000"/>
<rect x="310.3" y="1023.4" width="38.9" height="67.6" fill="url(#hatch)" stroke="#991818" stroke-width="1.2"/>
<rect x="367.9" y="971.2" width="38.9" height="119.8" fill="#000"/>
<rect x="406.8" y="1021.4" width="38.9" height="69.6" fill="url(#hatch)" stroke="#991818" stroke-width="1.2"/>
<rect x="464.4" y="925.2" width="38.9" height="165.8" fill="#000"/>
<rect x="503.3" y="1019.9" width="38.9" height="71.1" fill="url(#hatch)" stroke="#991818" stroke-width="1.2"/>
<rect x="560.9" y="870.0" width="38.9" height="221.0" fill="#000"/>
<rect x="599.8" y="1018.3" width="38.9" height="72.7" fill="url(#hatch)" stroke="#991818" stroke-width="1.2"/>
<rect x="657.4" y="805.4" width="38.9" height="285.6" fill="#000"/>
<rect x="696.3" y="1018.1" width="38.9" height="72.9" fill="url(#hatch)" stroke="#991818" stroke-width="1.2"/>
<line x1="222.3" y1="653.8" x2="301.8" y2="659.3" stroke="#a85050" stroke-width="1.2"/>
<line x1="318.8" y1="660.4" x2="398.3" y2="664.9" stroke="#a85050" stroke-width="1.2"/>
<line x1="415.3" y1="665.9" x2="494.8" y2="670.9" stroke="#a85050" stroke-width="1.2"/>
<line x1="511.8" y1="671.7" x2="591.3" y2="674.2" stroke="#a85050" stroke-width="1.2"/>
<line x1="608.3" y1="674.7" x2="687.8" y2="677.2" stroke="#a85050" stroke-width="1.2"/>
<rect x="208.8" y="648.2" width="10" height="10" fill="#7d0505"/>
<rect x="305.3" y="654.9" width="10" height="10" fill="#7d0505"/>
<rect x="401.8" y="660.3" width="10" height="10" fill="#7d0505"/>
<rect x="498.3" y="666.4" width="10" height="10" fill="#7d0505"/>
<rect x="594.8" y="669.5" width="10" height="10" fill="#7d0505"/>
<rect x="691.3" y="672.5" width="10" height="10" fill="#7d0505"/>
<g stroke="#000" stroke-width="5.1" stroke-linecap="round" fill="none">
<path d="M133.6,628.2 V1091.0"/>
<path d="M133.6,628.2 H758.4" stroke-linecap="butt"/>
<path d="M133.6,1091.0 H758.4" stroke-linecap="butt"/>
<path d="M133.6,1091.0 H125.6 M133.6,1024.9 H125.6 M133.6,958.8 H125.6 M133.6,892.7 H125.6 M133.6,826.5 H125.6 M133.6,760.4 H125.6 M133.6,694.3 H125.6 M133.6,628.2 H125.6 M133.6,1057.9 H129.1 M133.6,991.8 H129.1 M133.6,925.7 H129.1 M133.6,859.6 H129.1 M133.6,793.5 H129.1 M133.6,727.4 H129.1 M133.6,661.3 H129.1 M165.6,628.2 V633.2 M165.6,1091.0 V1096.0 M262.1,628.2 V633.2 M262.1,1091.0 V1096.0 M358.6,628.2 V633.2 M358.6,1091.0 V1096.0 M455.1,628.2 V633.2 M455.1,1091.0 V1096.0 M551.5,628.2 V633.2 M551.5,1091.0 V1096.0 M648.0,628.2 V633.2 M648.0,1091.0 V1096.0 M744.5,628.2 V633.2 M744.5,1091.0 V1096.0 M213.8,628.2 V637.2 M213.8,1091.0 V1100.0 M310.3,628.2 V637.2 M310.3,1091.0 V1100.0 M406.8,628.2 V637.2 M406.8,1091.0 V1100.0 M503.3,628.2 V637.2 M503.3,1091.0 V1100.0 M599.8,628.2 V637.2 M599.8,1091.0 V1100.0 M696.3,628.2 V637.2 M696.3,1091.0 V1100.0" stroke-width="4.6"/>
</g>
<g stroke="#7d0505" stroke-width="5.1" stroke-linecap="round" fill="none">
<path d="M760.4,625.5 V1093.7" stroke-linecap="butt"/>
<path d="M760.4,1090.6 H751.4 M760.4,1029.8 H751.4 M760.4,969.1 H751.4 M760.4,908.3 H751.4 M760.4,847.6 H751.4 M760.4,786.8 H751.4 M760.4,726.1 H751.4 M760.4,665.3 H751.4 M760.4,1060.2 H755.4 M760.4,999.5 H755.4 M760.4,938.7 H755.4 M760.4,878.0 H755.4 M760.4,817.2 H755.4 M760.4,756.5 H755.4 M760.4,695.7 H755.4 M760.4,635.0 H755.4" stroke-width="4.6"/>
</g>
<line x1="210.0" y1="607.0" x2="269.7" y2="623.0" stroke="#2f74c4" stroke-width="1.6"/>
<line x1="293.4" y1="609.5" x2="308.3" y2="625.5" stroke="#2f74c4" stroke-width="1.6"/>
<line x1="385.3" y1="609.5" x2="406.9" y2="626.8" stroke="#2f74c4" stroke-width="1.6"/>
<line x1="477.2" y1="609.5" x2="453.6" y2="627.3" stroke="#2f74c4" stroke-width="1.6"/>
<line x1="603.5" y1="609.7" x2="592.5" y2="631.8" stroke="#2f74c4" stroke-width="1.6"/>
<line x1="706.8" y1="609.0" x2="673.8" y2="627.3" stroke="#2f74c4" stroke-width="1.6"/>
<text x="118" y="1101.5" text-anchor="end" font-family="Liberation Sans, sans-serif" font-weight="bold" font-size="37.2" fill="#000">0</text>
<text x="118" y="1035.4" text-anchor="end" font-family="Liberation Sans, sans-serif" font-weight="bold" font-size="37.2" fill="#000">1</text>
<text x="118" y="969.3" text-anchor="end" font-family="Liberation Sans, sans-serif" font-weight="bold" font-size="37.2" fill="#000">2</text>
<text x="118" y="903.2" text-anchor="end" font-family="Liberation Sans, sans-serif" font-weight="bold" font-size="37.2" fill="#000">3</text>
<text x="118" y="837.0" text-anchor="end" font-family="Liberation Sans, sans-serif" font-weight="bold" font-size="37.2" fill="#000">4</text>
<text x="118" y="770.9" text-anchor="end" font-family="Liberation Sans, sans-serif" font-weight="bold" font-size="37.2" fill="#000">5</text>
<text x="118" y="704.8" text-anchor="end" font-family="Liberation Sans, sans-serif" font-weight="bold" font-size="37.2" fill="#000">6</text>
<text x="118" y="638.7" text-anchor="end" font-family="Liberation Sans, sans-serif" font-weight="bold" font-size="37.2" fill="#000">7</text>
<text x="769.8" y="1101.4" font-family="Liberation Sans, sans-serif" font-weight="bold" font-size="37" fill="#7d0505">0</text>
<text x="769.8" y="1040.6" font-family="Liberation Sans, sans-serif" font-weight="bold" font-size="37" fill="#7d0505">10</text>
<text x="769.8" y="979.9" font-family="Liberation Sans, sans-serif" font-weight="bold" font-size="37" fill="#7d0505">20</text>
<text x="769.8" y="919.1" font-family="Liberation Sans, sans-serif" font-weight="bold" font-size="37" fill="#7d0505">30</text>
<text x="769.8" y="858.4" font-family="Liberation Sans, sans-serif" font-weight="bold" font-size="37" fill="#7d0505">40</text>
<text x="769.8" y="797.6" font-family="Liberation Sans, sans-serif" font-weight="bold" font-size="37" fill="#7d0505">50</text>
<text x="769.8" y="736.9" font-family="Liberation Sans, sans-serif" font-weight="bold" font-size="37" fill="#7d0505">60</text>
<text x="769.8" y="676.1" font-family="Liberation Sans, sans-serif" font-weight="bold" font-size="37" fill="#7d0505">70</text>
<text x="213.8" y="1135.8" text-anchor="middle" font-family="Liberation Sans, sans-serif" font-size="37.3" fill="#000">0.06</text>
<text x="310.3" y="1135.8" text-anchor="middle" font-family="Liberation Sans, sans-serif" font-size="37.3" fill="#000">0.12</text>
<text x="406.8" y="1135.8" text-anchor="middle" font-family="Liberation Sans, sans-serif" font-size="37.3" fill="#000">0.18</text>
<text x="503.3" y="1135.8" text-anchor="middle" font-family="Liberation Sans, sans-serif" font-size="37.3" fill="#000">0.24</text>
<text x="599.8" y="1135.8" text-anchor="middle" font-family="Liberation Sans, sans-serif" font-size="37.3" fill="#000">0.30</text>
<text x="696.3" y="1135.8" text-anchor="middle" font-family="Liberation Sans, sans-serif" font-size="37.3" fill="#000">0.36</text>
<text x="213.3" y="1016.0" text-anchor="middle" font-family="Liberation Serif, serif" font-weight="bold" font-size="28" fill="#000">1.0</text>
<text x="386.6" y="960.3" text-anchor="middle" font-family="Liberation Serif, serif" font-weight="bold" font-size="28" fill="#000">1.8</text>
<text x="425.6" y="1008.6" text-anchor="middle" font-family="Liberation Serif, serif" font-weight="bold" font-size="28" fill="#000">1.1</text>
<text x="674.5" y="787.5" text-anchor="middle" font-family="Liberation Serif, serif" font-weight="bold" font-size="28" fill="#000">4.3</text>
<text x="718.0" y="992.0" text-anchor="middle" font-family="Liberation Serif, serif" font-weight="bold" font-size="28" fill="#000">1.1</text>
<g transform="translate(30.6,1064.7) rotate(-90)" font-family="Liberation Serif, serif" fill="#000">
<text x="0" y="0" font-weight="bold" font-size="41.5">Relative friction</text>
<text transform="translate(299.8,-1.5) scale(1.36,1)" font-style="italic" font-size="38">λ</text>
<text x="320.5" y="14.5" font-style="italic" font-weight="bold" font-size="24.5">q</text>
<line x1="331.8" y1="1" x2="342.2" y2="-29" stroke="#000" stroke-width="1.9"/>
<text transform="translate(344.7,-1.5) scale(1.36,1)" font-style="italic" font-size="38">λ</text>
<text x="365.2" y="15.3" font-weight="bold" font-size="25.2">0.06</text>
</g>
<text transform="translate(860,777.5) rotate(90)" font-family="Liberation Serif, serif" font-weight="bold" font-size="41" fill="#7d0505"><tspan font-weight="normal">θ</tspan> (degree)</text>
<text x="381" y="1183.3" font-family="Liberation Serif, serif" font-weight="bold" font-size="36" fill="#000"><tspan font-style="italic">q</tspan><tspan font-size="21.7" dy="13.7">carbon</tspan><tspan dy="-13.7"> (e)</tspan></text>
<line x1="144" y1="701.5" x2="204" y2="701.5" stroke="#a85050" stroke-width="1.2"/>
<rect x="163" y="693" width="22" height="17" fill="#fff"/>
<rect x="169" y="696.5" width="10" height="10" fill="#7d0505"/>
<text x="216" y="710" font-family="Liberation Serif, serif" font-weight="bold" font-size="26.9" fill="#7d0505">Contact angle <tspan font-weight="normal">θ</tspan></text>
<rect x="142.8" y="731.5" width="67.4" height="26.5" fill="#000"/>
<text x="216.3" y="755" font-family="Liberation Serif, serif" font-weight="bold" font-size="26.2" fill="#000">Calculated friction</text>
<rect x="143.2" y="829.5" width="66.5" height="25.5" fill="url(#hatch)" stroke="#991818" stroke-width="1.2"/>
<text x="221.5" y="855.3" font-family="Liberation Serif, serif" font-weight="bold" font-size="26.3" fill="#000">Theoretical friction from CA</text>
<g font-family="Liberation Serif, serif" fill="#2e2e2e">
<text x="224" y="808" font-size="27" font-style="italic">λ</text>
<path d="M245.5,797.3 H264.5 M245.5,802.6 H264.5" stroke="#2e2e2e" stroke-width="1.4" fill="none"/>
<text x="303" y="793.6" font-size="22">1</text>
<line x1="276.5" y1="799.3" x2="342" y2="799.3" stroke="#2e2e2e" stroke-width="1.3"/>
<path d="M279.2,821.5 c-1.6,-2.6 1.6,-4.6 3.2,-2.2 c1.2,2 -0.6,4.6 -3.0,4.4 M282.2,823.6 C286,821 290,812 292.6,806.6 L293.6,823.8 M284.6,817.6 H293.2" fill="none" stroke="#2e2e2e" stroke-width="1.25" stroke-linecap="round" stroke-linejoin="round"/>
<text x="305.5" y="824" font-size="23" font-style="italic">k</text>
<text x="316.5" y="829.5" font-size="15">B</text>
<text x="328" y="824" font-size="23" font-style="italic">T</text>
<text transform="translate(349.5,810.5) skewX(-14)" font-size="37">∫</text>
<text x="362.5" y="818.5" font-size="15">0</text>
<text x="368" y="791.5" font-size="16">∞</text>
<text x="387" y="808" font-size="26">d<tspan font-style="italic">t</tspan></text>
<text x="417" y="808" font-size="25.2" font-style="italic">F<tspan font-style="normal">(</tspan>t<tspan font-style="normal">)</tspan>F<tspan font-style="normal">(0)</tspan></text>
<path d="M414.3,788 L408.3,800.5 L414.3,813" fill="none" stroke="#2e2e2e" stroke-width="1.3"/>
<path d="M500.3,788 L506.3,800.5 L500.3,813" fill="none" stroke="#2e2e2e" stroke-width="1.3"/>
<text x="506.5" y="813.5" font-size="17" font-family="Liberation Sans, sans-serif">equ</text>
<text x="222" y="905" font-size="29"><tspan font-style="italic">λ</tspan>*</text>
<path d="M276.5,892.6 C273.5,887.4 263,887.2 263,892.6 C263,898 273.5,897.8 276.5,892.6 C278.5,889.4 281.5,888.2 285,888.2 M276.5,892.6 C278.5,895.8 281.5,897 285,897" fill="none" stroke="#2e2e2e" stroke-width="1.4"/>
<text x="296" y="905" font-size="29">(1 + cosθ)</text>
<text x="420.5" y="895.6" font-size="15.5">2</text>
</g></svg>
</body></html>
